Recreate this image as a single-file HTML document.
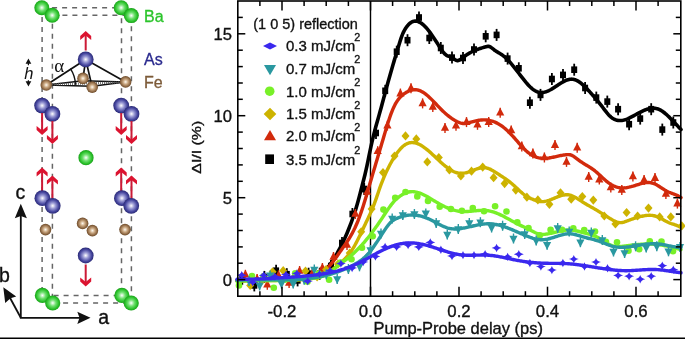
<!DOCTYPE html>
<html><head><meta charset="utf-8"><style>html,body{margin:0;padding:0;background:#fff;overflow:hidden}svg{display:block;will-change:transform}</style></head><body><svg width="685" height="339" viewBox="0 0 685 339"><defs>
<radialGradient id="gBa" cx="0.5" cy="0.5" r="0.52"><stop offset="0" stop-color="#ffffff"/><stop offset="0.4" stop-color="#70e070"/><stop offset="0.75" stop-color="#2cc22c"/><stop offset="1" stop-color="#169a16"/></radialGradient>
<radialGradient id="gAs" cx="0.5" cy="0.5" r="0.52"><stop offset="0" stop-color="#ffffff"/><stop offset="0.35" stop-color="#9a9ad4"/><stop offset="0.72" stop-color="#4848a0"/><stop offset="1" stop-color="#24246e"/></radialGradient>
<radialGradient id="gFe" cx="0.5" cy="0.5" r="0.52"><stop offset="0" stop-color="#fffaf0"/><stop offset="0.4" stop-color="#caa882"/><stop offset="0.8" stop-color="#8a6440"/><stop offset="1" stop-color="#634424"/></radialGradient>
</defs><rect width="685" height="339" fill="#fff"/><rect x="42.1" y="7.7" width="79.4" height="287.7" stroke="#666" stroke-width="1.5" stroke-dasharray="5,5" fill="none"/><rect x="52.4" y="15.3" width="79" height="287.7" stroke="#666" stroke-width="1.5" stroke-dasharray="5,5" fill="none"/><circle cx="41.8" cy="7.7" r="7.5" fill="url(#gBa)"/><circle cx="52.2" cy="15.3" r="7.5" fill="url(#gBa)"/><circle cx="121.2" cy="7.7" r="7.5" fill="url(#gBa)"/><circle cx="131.3" cy="15.6" r="7.5" fill="url(#gBa)"/><line x1="85.7" y1="50.5" x2="85.7" y2="34.0" stroke="#cc1a36" stroke-width="2"/><path d="M85.7,31.0 L91.2,36.0 L91.2,40.0 L85.7,35.6 L80.2,40.0 L80.2,36.0 Z" fill="#dc1430"/><g stroke="#111" stroke-width="1.7" fill="none" stroke-linecap="round"><line x1="85.7" y1="59.5" x2="46.3" y2="85"/><line x1="85.7" y1="59.5" x2="125.6" y2="81.9"/><line x1="85.7" y1="59.5" x2="83" y2="78.4"/><line x1="85.7" y1="59.5" x2="92.2" y2="87.1"/><path d="M46.3,85 L83,80.8 L125.6,81.9 L92.2,86.3 Z" stroke-width="1.5"/><path d="M70.7,69.2 A29,29 0 0 1 75.4,84.2" stroke-width="1.4"/></g><path d="M52,84.3 L120,82.5" stroke="#555" stroke-width="2.4" stroke-dasharray="0.8,1.2"/><circle cx="46.3" cy="85.0" r="5.8" fill="url(#gFe)"/><circle cx="83.0" cy="78.4" r="5.8" fill="url(#gFe)"/><circle cx="125.6" cy="81.9" r="5.8" fill="url(#gFe)"/><circle cx="85.7" cy="59.4" r="7.9" fill="url(#gAs)"/><circle cx="92.2" cy="87.1" r="5.8" fill="url(#gFe)"/><text x="54.2" y="71.6" font-family="Liberation Serif, serif" font-size="19" fill="#111">α</text><text x="24.2" y="78.8" font-family="Liberation Sans, sans-serif" font-style="italic" font-size="16.5" fill="#111">h</text><path d="M28.4,58.6 L31.3,63.8 L25.6,63.8 Z M28.4,86.5 L31.3,81.3 L25.6,81.3 Z" fill="#111"/><path d="M28.4,63 L28.4,65.3 M28.4,80.3 L28.4,82" stroke="#111" stroke-width="1.2"/><circle cx="42.1" cy="105.6" r="7.9" fill="url(#gAs)"/><circle cx="52.4" cy="113.9" r="7.9" fill="url(#gAs)"/><circle cx="121.2" cy="105.6" r="7.9" fill="url(#gAs)"/><circle cx="131.5" cy="113.9" r="7.9" fill="url(#gAs)"/><line x1="42.1" y1="113.0" x2="42.1" y2="132.1" stroke="#cc1a36" stroke-width="2"/><path d="M42.1,135.1 L47.6,130.1 L47.6,126.1 L42.1,130.5 L36.6,126.1 L36.6,130.1 Z" fill="#dc1430"/><line x1="52.4" y1="121.0" x2="52.4" y2="141.0" stroke="#cc1a36" stroke-width="2"/><path d="M52.4,144.0 L57.9,139.0 L57.9,135.0 L52.4,139.4 L46.9,135.0 L46.9,139.0 Z" fill="#dc1430"/><line x1="121.2" y1="113.0" x2="121.2" y2="132.1" stroke="#cc1a36" stroke-width="2"/><path d="M121.2,135.1 L126.7,130.1 L126.7,126.1 L121.2,130.5 L115.7,126.1 L115.7,130.1 Z" fill="#dc1430"/><line x1="131.5" y1="121.0" x2="131.5" y2="141.0" stroke="#cc1a36" stroke-width="2"/><path d="M131.5,144.0 L137.0,139.0 L137.0,135.0 L131.5,139.4 L126.0,135.0 L126.0,139.0 Z" fill="#dc1430"/><circle cx="86.0" cy="157.7" r="7.6" fill="url(#gBa)"/><line x1="42.1" y1="191.0" x2="42.1" y2="170.4" stroke="#cc1a36" stroke-width="2"/><path d="M42.1,167.4 L47.6,172.4 L47.6,176.4 L42.1,172.0 L36.6,176.4 L36.6,172.4 Z" fill="#dc1430"/><line x1="52.4" y1="199.0" x2="52.4" y2="178.4" stroke="#cc1a36" stroke-width="2"/><path d="M52.4,175.4 L57.9,180.4 L57.9,184.4 L52.4,180.0 L46.9,184.4 L46.9,180.4 Z" fill="#dc1430"/><line x1="121.2" y1="191.0" x2="121.2" y2="170.4" stroke="#cc1a36" stroke-width="2"/><path d="M121.2,167.4 L126.7,172.4 L126.7,176.4 L121.2,172.0 L115.7,176.4 L115.7,172.4 Z" fill="#dc1430"/><line x1="131.5" y1="199.0" x2="131.5" y2="178.4" stroke="#cc1a36" stroke-width="2"/><path d="M131.5,175.4 L137.0,180.4 L137.0,184.4 L131.5,180.0 L126.0,184.4 L126.0,180.4 Z" fill="#dc1430"/><circle cx="42.4" cy="198.2" r="7.9" fill="url(#gAs)"/><circle cx="52.7" cy="205.8" r="7.9" fill="url(#gAs)"/><circle cx="121.9" cy="198.2" r="7.9" fill="url(#gAs)"/><circle cx="131.2" cy="205.8" r="7.9" fill="url(#gAs)"/><circle cx="45.5" cy="229.6" r="5.8" fill="url(#gFe)"/><circle cx="82.6" cy="223.4" r="5.8" fill="url(#gFe)"/><circle cx="92.4" cy="230.6" r="5.8" fill="url(#gFe)"/><circle cx="125.0" cy="229.6" r="5.8" fill="url(#gFe)"/><circle cx="85.7" cy="255.5" r="7.9" fill="url(#gAs)"/><line x1="85.7" y1="264.5" x2="85.7" y2="283.5" stroke="#cc1a36" stroke-width="2"/><path d="M85.7,286.5 L91.2,281.5 L91.2,277.5 L85.7,281.9 L80.2,277.5 L80.2,281.5 Z" fill="#dc1430"/><circle cx="42.4" cy="295.4" r="7.6" fill="url(#gBa)"/><circle cx="52.7" cy="303.0" r="7.6" fill="url(#gBa)"/><circle cx="121.9" cy="295.4" r="7.6" fill="url(#gBa)"/><circle cx="131.2" cy="303.0" r="7.6" fill="url(#gBa)"/><g stroke="#111" stroke-width="1.8" fill="none"><path d="M20.8,215 L20.8,317.8 L80,317.8"/><path d="M20.8,317.8 L9,296"/></g><path d="M20.8,203.8 L26.9,218.2 L20.8,216 L14.8,218.2 Z" fill="#111"/><path d="M90.5,317.8 L77.3,311.7 L79.5,317.8 L77.3,323.9 Z" fill="#111"/><path d="M3.3,287.3 L16.2,296.4 L10.5,298.2 L5.2,303 Z" fill="#111"/><text x="15.6" y="198.8" font-family="Liberation Sans, sans-serif" stroke="#111" stroke-width="0.35" font-size="19.5" fill="#111">c</text><text x="-1" y="281.6" font-family="Liberation Sans, sans-serif" stroke="#111" stroke-width="0.35" font-size="19.5" fill="#111">b</text><text x="98.2" y="323.8" font-family="Liberation Sans, sans-serif" stroke="#111" stroke-width="0.35" font-size="19.5" fill="#111">a</text><text x="144" y="21.8" font-family="Liberation Sans, sans-serif" stroke="#2bc42b" stroke-width="0.3" font-size="16" fill="#2bc42b">Ba</text><text x="144" y="65" font-family="Liberation Sans, sans-serif" stroke="#2a2a8e" stroke-width="0.3" font-size="16" fill="#2a2a8e">As</text><text x="144" y="88" font-family="Liberation Sans, sans-serif" stroke="#7c5a38" stroke-width="0.3" font-size="16" fill="#7c5a38">Fe</text><line x1="370.5" y1="1.0" x2="370.5" y2="296.2" stroke="#000" stroke-width="1.4"/><g><line x1="242.3" y1="272.8" x2="242.3" y2="284.8" stroke="#000" stroke-width="1.8"/><rect x="239.3" y="275.5" width="6" height="6.6" fill="#000"/><line x1="254.3" y1="279.4" x2="254.3" y2="291.4" stroke="#000" stroke-width="1.8"/><rect x="251.3" y="282.1" width="6" height="6.6" fill="#000"/><line x1="264.4" y1="270.9" x2="264.4" y2="282.9" stroke="#000" stroke-width="1.8"/><rect x="261.4" y="273.6" width="6" height="6.6" fill="#000"/><line x1="276.1" y1="264.7" x2="276.1" y2="276.7" stroke="#000" stroke-width="1.8"/><rect x="273.1" y="267.4" width="6" height="6.6" fill="#000"/><line x1="286.8" y1="268.2" x2="286.8" y2="280.2" stroke="#000" stroke-width="1.8"/><rect x="283.8" y="270.9" width="6" height="6.6" fill="#000"/><line x1="297.6" y1="274.4" x2="297.6" y2="286.4" stroke="#000" stroke-width="1.8"/><rect x="294.6" y="277.1" width="6" height="6.6" fill="#000"/><line x1="308.6" y1="267.7" x2="308.6" y2="279.7" stroke="#000" stroke-width="1.8"/><rect x="305.6" y="270.4" width="6" height="6.6" fill="#000"/><line x1="319.7" y1="267.7" x2="319.7" y2="279.7" stroke="#000" stroke-width="1.8"/><rect x="316.7" y="270.4" width="6" height="6.6" fill="#000"/><line x1="331.0" y1="260.0" x2="331.0" y2="272.0" stroke="#000" stroke-width="1.8"/><rect x="328.0" y="262.7" width="6" height="6.6" fill="#000"/><line x1="342.0" y1="237.0" x2="342.0" y2="249.0" stroke="#000" stroke-width="1.8"/><rect x="339.0" y="239.7" width="6" height="6.6" fill="#000"/><line x1="352.4" y1="208.0" x2="352.4" y2="220.0" stroke="#000" stroke-width="1.8"/><rect x="349.4" y="210.7" width="6" height="6.6" fill="#000"/><line x1="364.2" y1="183.0" x2="364.2" y2="195.0" stroke="#000" stroke-width="1.8"/><rect x="361.2" y="185.7" width="6" height="6.6" fill="#000"/><line x1="376.0" y1="127.0" x2="376.0" y2="139.0" stroke="#000" stroke-width="1.8"/><rect x="373.0" y="129.7" width="6" height="6.6" fill="#000"/><line x1="385.2" y1="84.8" x2="385.2" y2="96.8" stroke="#000" stroke-width="1.8"/><rect x="382.2" y="87.5" width="6" height="6.6" fill="#000"/><line x1="396.7" y1="45.7" x2="396.7" y2="57.7" stroke="#000" stroke-width="1.8"/><rect x="393.7" y="48.4" width="6" height="6.6" fill="#000"/><line x1="407.5" y1="34.2" x2="407.5" y2="46.2" stroke="#000" stroke-width="1.8"/><rect x="404.5" y="36.9" width="6" height="6.6" fill="#000"/><line x1="419.0" y1="11.5" x2="419.0" y2="23.5" stroke="#000" stroke-width="1.8"/><rect x="416.0" y="14.2" width="6" height="6.6" fill="#000"/><line x1="429.3" y1="32.0" x2="429.3" y2="44.0" stroke="#000" stroke-width="1.8"/><rect x="426.3" y="34.7" width="6" height="6.6" fill="#000"/><line x1="440.8" y1="42.0" x2="440.8" y2="54.0" stroke="#000" stroke-width="1.8"/><rect x="437.8" y="44.7" width="6" height="6.6" fill="#000"/><line x1="452.0" y1="51.6" x2="452.0" y2="63.6" stroke="#000" stroke-width="1.8"/><rect x="449.0" y="54.3" width="6" height="6.6" fill="#000"/><line x1="463.0" y1="52.0" x2="463.0" y2="64.0" stroke="#000" stroke-width="1.8"/><rect x="460.0" y="54.7" width="6" height="6.6" fill="#000"/><line x1="474.0" y1="43.5" x2="474.0" y2="55.5" stroke="#000" stroke-width="1.8"/><rect x="471.0" y="46.2" width="6" height="6.6" fill="#000"/><line x1="485.7" y1="30.3" x2="485.7" y2="42.3" stroke="#000" stroke-width="1.8"/><rect x="482.7" y="33.0" width="6" height="6.6" fill="#000"/><line x1="496.6" y1="28.9" x2="496.6" y2="40.9" stroke="#000" stroke-width="1.8"/><rect x="493.6" y="31.6" width="6" height="6.6" fill="#000"/><line x1="507.6" y1="52.6" x2="507.6" y2="64.6" stroke="#000" stroke-width="1.8"/><rect x="504.6" y="55.3" width="6" height="6.6" fill="#000"/><line x1="518.8" y1="62.3" x2="518.8" y2="74.3" stroke="#000" stroke-width="1.8"/><rect x="515.8" y="65.0" width="6" height="6.6" fill="#000"/><line x1="529.9" y1="96.7" x2="529.9" y2="108.7" stroke="#000" stroke-width="1.8"/><rect x="526.9" y="99.4" width="6" height="6.6" fill="#000"/><line x1="540.5" y1="88.9" x2="540.5" y2="100.9" stroke="#000" stroke-width="1.8"/><rect x="537.5" y="91.6" width="6" height="6.6" fill="#000"/><line x1="551.9" y1="73.0" x2="551.9" y2="85.0" stroke="#000" stroke-width="1.8"/><rect x="548.9" y="75.7" width="6" height="6.6" fill="#000"/><line x1="563.0" y1="68.9" x2="563.0" y2="80.9" stroke="#000" stroke-width="1.8"/><rect x="560.0" y="71.6" width="6" height="6.6" fill="#000"/><line x1="574.2" y1="63.7" x2="574.2" y2="75.7" stroke="#000" stroke-width="1.8"/><rect x="571.2" y="66.4" width="6" height="6.6" fill="#000"/><line x1="585.1" y1="82.0" x2="585.1" y2="94.0" stroke="#000" stroke-width="1.8"/><rect x="582.1" y="84.7" width="6" height="6.6" fill="#000"/><line x1="596.3" y1="91.6" x2="596.3" y2="103.6" stroke="#000" stroke-width="1.8"/><rect x="593.3" y="94.3" width="6" height="6.6" fill="#000"/><line x1="607.3" y1="95.6" x2="607.3" y2="107.6" stroke="#000" stroke-width="1.8"/><rect x="604.3" y="98.3" width="6" height="6.6" fill="#000"/><line x1="618.1" y1="103.2" x2="618.1" y2="115.2" stroke="#000" stroke-width="1.8"/><rect x="615.1" y="105.9" width="6" height="6.6" fill="#000"/><line x1="629.1" y1="118.2" x2="629.1" y2="130.2" stroke="#000" stroke-width="1.8"/><rect x="626.1" y="120.9" width="6" height="6.6" fill="#000"/><line x1="640.2" y1="112.6" x2="640.2" y2="124.6" stroke="#000" stroke-width="1.8"/><rect x="637.2" y="115.3" width="6" height="6.6" fill="#000"/><line x1="651.2" y1="103.2" x2="651.2" y2="115.2" stroke="#000" stroke-width="1.8"/><rect x="648.2" y="105.9" width="6" height="6.6" fill="#000"/><line x1="662.3" y1="123.6" x2="662.3" y2="135.6" stroke="#000" stroke-width="1.8"/><rect x="659.3" y="126.3" width="6" height="6.6" fill="#000"/><line x1="673.3" y1="116.5" x2="673.3" y2="128.5" stroke="#000" stroke-width="1.8"/><rect x="670.3" y="119.2" width="6" height="6.6" fill="#000"/></g><path d="M237.0,280.56 L238.0,280.53 L239.0,280.50 L240.0,280.47 L241.0,280.45 L242.0,280.42 L243.0,280.40 L244.0,280.38 L245.0,280.36 L246.0,280.34 L247.0,280.32 L248.0,280.30 L249.0,280.28 L250.0,280.27 L251.0,280.25 L252.0,280.24 L253.0,280.22 L254.0,280.21 L255.0,280.19 L256.0,280.18 L257.0,280.17 L258.0,280.16 L259.0,280.14 L260.0,280.13 L261.0,280.12 L262.0,280.10 L263.0,280.09 L264.0,280.08 L265.0,280.06 L266.0,280.05 L267.0,280.03 L268.0,280.02 L269.0,280.00 L270.0,279.98 L271.0,279.97 L272.0,279.95 L273.0,279.93 L274.0,279.91 L275.0,279.89 L276.0,279.86 L277.0,279.84 L278.0,279.81 L279.0,279.78 L280.0,279.76 L281.0,279.72 L282.0,279.69 L283.0,279.66 L284.0,279.62 L285.0,279.58 L286.0,279.54 L287.0,279.50 L288.0,279.46 L289.0,279.41 L290.0,279.36 L291.0,279.31 L292.0,279.26 L293.0,279.20 L294.0,279.15 L295.0,279.08 L296.0,279.02 L297.0,278.95 L298.0,278.88 L299.0,278.81 L300.0,278.74 L301.0,278.66 L302.0,278.57 L303.0,278.48 L304.0,278.38 L305.0,278.26 L306.0,278.14 L307.0,277.99 L308.0,277.83 L309.0,277.65 L310.0,277.45 L311.0,277.22 L312.0,276.96 L313.0,276.67 L314.0,276.36 L315.0,276.01 L316.0,275.62 L317.0,275.20 L318.0,274.73 L319.0,274.23 L320.0,273.67 L321.0,273.06 L322.0,272.40 L323.0,271.68 L324.0,270.88 L325.0,270.02 L326.0,269.09 L327.0,268.07 L328.0,266.98 L329.0,265.80 L330.0,264.54 L331.0,263.19 L332.0,261.76 L333.0,260.25 L334.0,258.66 L335.0,257.01 L336.0,255.30 L337.0,253.54 L338.0,251.74 L339.0,249.89 L340.0,248.01 L341.0,246.09 L342.0,244.12 L343.0,242.09 L344.0,239.99 L345.0,237.81 L346.0,235.54 L347.0,233.20 L348.0,230.77 L349.0,228.26 L350.0,225.68 L351.0,223.03 L352.0,220.31 L353.0,217.51 L354.0,214.61 L355.0,211.58 L356.0,208.40 L357.0,205.02 L358.0,201.45 L359.0,197.72 L360.0,193.89 L361.0,190.02 L362.0,186.15 L363.0,182.33 L364.0,178.48 L365.0,174.45 L366.0,170.12 L367.0,165.54 L368.0,160.79 L369.0,155.98 L370.0,151.17 L371.0,146.46 L372.0,141.93 L373.0,137.65 L374.0,133.61 L375.0,129.76 L376.0,126.05 L377.0,122.45 L378.0,118.90 L379.0,115.37 L380.0,111.80 L381.0,108.17 L382.0,104.47 L383.0,100.74 L384.0,96.99 L385.0,93.26 L386.0,89.56 L387.0,85.91 L388.0,82.30 L389.0,78.73 L390.0,75.19 L391.0,71.70 L392.0,68.23 L393.0,64.79 L394.0,61.38 L395.0,58.00 L396.0,54.64 L397.0,51.30 L398.0,47.97 L399.0,44.67 L400.0,41.44 L401.0,38.37 L402.0,35.57 L403.0,33.14 L404.0,31.09 L405.0,29.34 L406.0,27.79 L407.0,26.40 L408.0,25.17 L409.0,24.11 L410.0,23.21 L411.0,22.47 L412.0,21.89 L413.0,21.47 L414.0,21.20 L415.0,21.08 L416.0,21.09 L417.0,21.24 L418.0,21.51 L419.0,21.91 L420.0,22.41 L421.0,23.03 L422.0,23.75 L423.0,24.56 L424.0,25.46 L425.0,26.45 L426.0,27.52 L427.0,28.65 L428.0,29.86 L429.0,31.12 L430.0,32.44 L431.0,33.82 L432.0,35.23 L433.0,36.69 L434.0,38.18 L435.0,39.70 L436.0,41.25 L437.0,42.81 L438.0,44.39 L439.0,45.97 L440.0,47.54 L441.0,49.07 L442.0,50.53 L443.0,51.88 L444.0,53.09 L445.0,54.14 L446.0,54.98 L447.0,55.61 L448.0,56.06 L449.0,56.41 L450.0,56.74 L451.0,57.12 L452.0,57.63 L453.0,58.29 L454.0,59.03 L455.0,59.74 L456.0,60.31 L457.0,60.63 L458.0,60.61 L459.0,60.25 L460.0,59.68 L461.0,59.02 L462.0,58.30 L463.0,57.55 L464.0,56.79 L465.0,56.04 L466.0,55.32 L467.0,54.63 L468.0,53.99 L469.0,53.38 L470.0,52.80 L471.0,52.26 L472.0,51.74 L473.0,51.26 L474.0,50.80 L475.0,50.37 L476.0,49.96 L477.0,49.57 L478.0,49.20 L479.0,48.85 L480.0,48.52 L481.0,48.20 L482.0,47.90 L483.0,47.61 L484.0,47.32 L485.0,47.04 L486.0,46.76 L487.0,46.50 L488.0,46.34 L489.0,46.41 L490.0,46.77 L491.0,47.35 L492.0,48.08 L493.0,48.88 L494.0,49.69 L495.0,50.43 L496.0,51.11 L497.0,51.74 L498.0,52.35 L499.0,52.95 L500.0,53.55 L501.0,54.18 L502.0,54.86 L503.0,55.58 L504.0,56.37 L505.0,57.22 L506.0,58.12 L507.0,59.07 L508.0,60.08 L509.0,61.14 L510.0,62.24 L511.0,63.39 L512.0,64.57 L513.0,65.78 L514.0,67.03 L515.0,68.29 L516.0,69.58 L517.0,70.87 L518.0,72.18 L519.0,73.49 L520.0,74.81 L521.0,76.12 L522.0,77.42 L523.0,78.70 L524.0,79.97 L525.0,81.20 L526.0,82.40 L527.0,83.57 L528.0,84.68 L529.0,85.75 L530.0,86.76 L531.0,87.70 L532.0,88.57 L533.0,89.37 L534.0,90.09 L535.0,90.72 L536.0,91.26 L537.0,91.69 L538.0,92.03 L539.0,92.28 L540.0,92.44 L541.0,92.51 L542.0,92.50 L543.0,92.41 L544.0,92.26 L545.0,92.03 L546.0,91.74 L547.0,91.39 L548.0,90.98 L549.0,90.52 L550.0,90.01 L551.0,89.47 L552.0,88.89 L553.0,88.27 L554.0,87.64 L555.0,86.99 L556.0,86.32 L557.0,85.65 L558.0,84.99 L559.0,84.33 L560.0,83.68 L561.0,83.05 L562.0,82.45 L563.0,81.88 L564.0,81.35 L565.0,80.86 L566.0,80.42 L567.0,80.04 L568.0,79.72 L569.0,79.46 L570.0,79.28 L571.0,79.19 L572.0,79.17 L573.0,79.25 L574.0,79.43 L575.0,79.71 L576.0,80.09 L577.0,80.56 L578.0,81.11 L579.0,81.74 L580.0,82.44 L581.0,83.20 L582.0,84.03 L583.0,84.91 L584.0,85.84 L585.0,86.82 L586.0,87.82 L587.0,88.86 L588.0,89.92 L589.0,91.00 L590.0,92.10 L591.0,93.21 L592.0,94.33 L593.0,95.47 L594.0,96.62 L595.0,97.79 L596.0,98.98 L597.0,100.18 L598.0,101.40 L599.0,102.63 L600.0,103.88 L601.0,105.16 L602.0,106.44 L603.0,107.75 L604.0,109.07 L605.0,110.38 L606.0,111.66 L607.0,112.90 L608.0,114.08 L609.0,115.19 L610.0,116.20 L611.0,117.10 L612.0,117.88 L613.0,118.54 L614.0,119.09 L615.0,119.53 L616.0,119.89 L617.0,120.16 L618.0,120.36 L619.0,120.49 L620.0,120.54 L621.0,120.53 L622.0,120.44 L623.0,120.30 L624.0,120.09 L625.0,119.82 L626.0,119.49 L627.0,119.11 L628.0,118.68 L629.0,118.22 L630.0,117.72 L631.0,117.21 L632.0,116.68 L633.0,116.14 L634.0,115.59 L635.0,115.04 L636.0,114.48 L637.0,113.93 L638.0,113.38 L639.0,112.84 L640.0,112.31 L641.0,111.80 L642.0,111.31 L643.0,110.84 L644.0,110.39 L645.0,109.98 L646.0,109.59 L647.0,109.24 L648.0,108.94 L649.0,108.67 L650.0,108.46 L651.0,108.30 L652.0,108.19 L653.0,108.15 L654.0,108.17 L655.0,108.26 L656.0,108.42 L657.0,108.66 L658.0,108.98 L659.0,109.38 L660.0,109.87 L661.0,110.42 L662.0,111.05 L663.0,111.73 L664.0,112.48 L665.0,113.28 L666.0,114.13 L667.0,115.02 L668.0,115.96 L669.0,116.92 L670.0,117.92 L671.0,118.94 L672.0,119.98 L673.0,121.04 L674.0,122.10 L675.0,123.17 L676.0,124.24 L677.0,125.31 L678.0,126.37 L679.0,127.41 L680.0,128.43 L681.0,129.42" fill="none" stroke="#000000" stroke-width="3.6" stroke-linecap="round" stroke-linejoin="round"/><g><line x1="245.4" y1="269.8" x2="245.4" y2="279.8" stroke="#d22a0c" stroke-width="1.4"/><path d="M245.4,269.8 L249.5,277.6 L241.3,277.6 Z" fill="#d22a0c"/><line x1="257.1" y1="274.0" x2="257.1" y2="284.0" stroke="#d22a0c" stroke-width="1.4"/><path d="M257.1,274.0 L261.2,281.8 L253.0,281.8 Z" fill="#d22a0c"/><line x1="267.3" y1="279.8" x2="267.3" y2="289.8" stroke="#d22a0c" stroke-width="1.4"/><path d="M267.3,279.8 L271.4,287.6 L263.2,287.6 Z" fill="#d22a0c"/><line x1="278.5" y1="270.4" x2="278.5" y2="280.4" stroke="#d22a0c" stroke-width="1.4"/><path d="M278.5,270.4 L282.6,278.2 L274.4,278.2 Z" fill="#d22a0c"/><line x1="289.1" y1="278.0" x2="289.1" y2="288.0" stroke="#d22a0c" stroke-width="1.4"/><path d="M289.1,278.0 L293.2,285.8 L285.0,285.8 Z" fill="#d22a0c"/><line x1="299.6" y1="266.0" x2="299.6" y2="276.0" stroke="#d22a0c" stroke-width="1.4"/><path d="M299.6,266.0 L303.7,273.8 L295.5,273.8 Z" fill="#d22a0c"/><line x1="312.3" y1="268.5" x2="312.3" y2="278.5" stroke="#d22a0c" stroke-width="1.4"/><path d="M312.3,268.5 L316.4,276.3 L308.2,276.3 Z" fill="#d22a0c"/><line x1="322.4" y1="263.0" x2="322.4" y2="273.0" stroke="#d22a0c" stroke-width="1.4"/><path d="M322.4,263.0 L326.5,270.8 L318.3,270.8 Z" fill="#d22a0c"/><line x1="333.5" y1="252.0" x2="333.5" y2="262.0" stroke="#d22a0c" stroke-width="1.4"/><path d="M333.5,252.0 L337.6,259.8 L329.4,259.8 Z" fill="#d22a0c"/><line x1="347.0" y1="240.0" x2="347.0" y2="250.0" stroke="#d22a0c" stroke-width="1.4"/><path d="M347.0,240.0 L351.1,247.8 L342.9,247.8 Z" fill="#d22a0c"/><line x1="355.4" y1="209.0" x2="355.4" y2="219.0" stroke="#d22a0c" stroke-width="1.4"/><path d="M355.4,209.0 L359.5,216.8 L351.3,216.8 Z" fill="#d22a0c"/><line x1="367.2" y1="187.0" x2="367.2" y2="197.0" stroke="#d22a0c" stroke-width="1.4"/><path d="M367.2,187.0 L371.3,194.8 L363.1,194.8 Z" fill="#d22a0c"/><line x1="377.7" y1="146.3" x2="377.7" y2="156.3" stroke="#d22a0c" stroke-width="1.4"/><path d="M377.7,146.3 L381.8,154.1 L373.6,154.1 Z" fill="#d22a0c"/><line x1="387.4" y1="120.6" x2="387.4" y2="130.6" stroke="#d22a0c" stroke-width="1.4"/><path d="M387.4,120.6 L391.5,128.4 L383.3,128.4 Z" fill="#d22a0c"/><line x1="400.4" y1="88.6" x2="400.4" y2="98.6" stroke="#d22a0c" stroke-width="1.4"/><path d="M400.4,88.6 L404.5,96.4 L396.3,96.4 Z" fill="#d22a0c"/><line x1="411.0" y1="83.3" x2="411.0" y2="93.3" stroke="#d22a0c" stroke-width="1.4"/><path d="M411.0,83.3 L415.1,91.1 L406.9,91.1 Z" fill="#d22a0c"/><line x1="422.6" y1="98.4" x2="422.6" y2="108.4" stroke="#d22a0c" stroke-width="1.4"/><path d="M422.6,98.4 L426.7,106.2 L418.5,106.2 Z" fill="#d22a0c"/><line x1="432.8" y1="101.9" x2="432.8" y2="111.9" stroke="#d22a0c" stroke-width="1.4"/><path d="M432.8,101.9 L436.9,109.7 L428.7,109.7 Z" fill="#d22a0c"/><line x1="445.0" y1="123.0" x2="445.0" y2="133.0" stroke="#d22a0c" stroke-width="1.4"/><path d="M445.0,123.0 L449.1,130.8 L440.9,130.8 Z" fill="#d22a0c"/><line x1="456.0" y1="120.7" x2="456.0" y2="130.7" stroke="#d22a0c" stroke-width="1.4"/><path d="M456.0,120.7 L460.1,128.5 L451.9,128.5 Z" fill="#d22a0c"/><line x1="466.5" y1="117.1" x2="466.5" y2="127.1" stroke="#d22a0c" stroke-width="1.4"/><path d="M466.5,117.1 L470.6,124.9 L462.4,124.9 Z" fill="#d22a0c"/><line x1="477.5" y1="119.8" x2="477.5" y2="129.8" stroke="#d22a0c" stroke-width="1.4"/><path d="M477.5,119.8 L481.6,127.6 L473.4,127.6 Z" fill="#d22a0c"/><line x1="488.7" y1="117.1" x2="488.7" y2="127.1" stroke="#d22a0c" stroke-width="1.4"/><path d="M488.7,117.1 L492.8,124.9 L484.6,124.9 Z" fill="#d22a0c"/><line x1="500.2" y1="107.7" x2="500.2" y2="117.7" stroke="#d22a0c" stroke-width="1.4"/><path d="M500.2,107.7 L504.3,115.5 L496.1,115.5 Z" fill="#d22a0c"/><line x1="511.2" y1="125.4" x2="511.2" y2="135.4" stroke="#d22a0c" stroke-width="1.4"/><path d="M511.2,125.4 L515.3,133.2 L507.1,133.2 Z" fill="#d22a0c"/><line x1="521.8" y1="141.4" x2="521.8" y2="151.4" stroke="#d22a0c" stroke-width="1.4"/><path d="M521.8,141.4 L525.9,149.2 L517.7,149.2 Z" fill="#d22a0c"/><line x1="532.9" y1="148.5" x2="532.9" y2="158.5" stroke="#d22a0c" stroke-width="1.4"/><path d="M532.9,148.5 L537.0,156.3 L528.8,156.3 Z" fill="#d22a0c"/><line x1="544.4" y1="152.5" x2="544.4" y2="162.5" stroke="#d22a0c" stroke-width="1.4"/><path d="M544.4,152.5 L548.5,160.3 L540.3,160.3 Z" fill="#d22a0c"/><line x1="555.0" y1="140.1" x2="555.0" y2="150.1" stroke="#d22a0c" stroke-width="1.4"/><path d="M555.0,140.1 L559.1,147.9 L550.9,147.9 Z" fill="#d22a0c"/><line x1="566.5" y1="156.9" x2="566.5" y2="166.9" stroke="#d22a0c" stroke-width="1.4"/><path d="M566.5,156.9 L570.6,164.7 L562.4,164.7 Z" fill="#d22a0c"/><line x1="577.2" y1="142.7" x2="577.2" y2="152.7" stroke="#d22a0c" stroke-width="1.4"/><path d="M577.2,142.7 L581.3,150.5 L573.1,150.5 Z" fill="#d22a0c"/><line x1="588.7" y1="171.9" x2="588.7" y2="181.9" stroke="#d22a0c" stroke-width="1.4"/><path d="M588.7,171.9 L592.8,179.7 L584.6,179.7 Z" fill="#d22a0c"/><line x1="599.3" y1="174.6" x2="599.3" y2="184.6" stroke="#d22a0c" stroke-width="1.4"/><path d="M599.3,174.6 L603.4,182.4 L595.2,182.4 Z" fill="#d22a0c"/><line x1="610.8" y1="182.5" x2="610.8" y2="192.5" stroke="#d22a0c" stroke-width="1.4"/><path d="M610.8,182.5 L614.9,190.3 L606.7,190.3 Z" fill="#d22a0c"/><line x1="621.8" y1="185.0" x2="621.8" y2="195.0" stroke="#d22a0c" stroke-width="1.4"/><path d="M621.8,185.0 L625.9,192.8 L617.7,192.8 Z" fill="#d22a0c"/><line x1="632.9" y1="171.4" x2="632.9" y2="181.4" stroke="#d22a0c" stroke-width="1.4"/><path d="M632.9,171.4 L637.0,179.2 L628.8,179.2 Z" fill="#d22a0c"/><line x1="644.1" y1="174.9" x2="644.1" y2="184.9" stroke="#d22a0c" stroke-width="1.4"/><path d="M644.1,174.9 L648.2,182.7 L640.0,182.7 Z" fill="#d22a0c"/><line x1="655.0" y1="173.1" x2="655.0" y2="183.1" stroke="#d22a0c" stroke-width="1.4"/><path d="M655.0,173.1 L659.1,180.9 L650.9,180.9 Z" fill="#d22a0c"/><line x1="665.9" y1="189.0" x2="665.9" y2="199.0" stroke="#d22a0c" stroke-width="1.4"/><path d="M665.9,189.0 L670.0,196.8 L661.8,196.8 Z" fill="#d22a0c"/><line x1="677.4" y1="198.6" x2="677.4" y2="208.6" stroke="#d22a0c" stroke-width="1.4"/><path d="M677.4,198.6 L681.5,206.4 L673.3,206.4 Z" fill="#d22a0c"/></g><path d="M237.0,280.68 L238.0,280.62 L239.0,280.57 L240.0,280.52 L241.0,280.47 L242.0,280.42 L243.0,280.38 L244.0,280.34 L245.0,280.31 L246.0,280.28 L247.0,280.25 L248.0,280.22 L249.0,280.20 L250.0,280.17 L251.0,280.15 L252.0,280.14 L253.0,280.12 L254.0,280.11 L255.0,280.10 L256.0,280.09 L257.0,280.08 L258.0,280.07 L259.0,280.07 L260.0,280.06 L261.0,280.06 L262.0,280.05 L263.0,280.05 L264.0,280.05 L265.0,280.05 L266.0,280.05 L267.0,280.04 L268.0,280.04 L269.0,280.04 L270.0,280.04 L271.0,280.04 L272.0,280.03 L273.0,280.03 L274.0,280.03 L275.0,280.02 L276.0,280.02 L277.0,280.01 L278.0,280.00 L279.0,279.99 L280.0,279.98 L281.0,279.96 L282.0,279.95 L283.0,279.93 L284.0,279.91 L285.0,279.89 L286.0,279.86 L287.0,279.83 L288.0,279.80 L289.0,279.77 L290.0,279.73 L291.0,279.70 L292.0,279.65 L293.0,279.61 L294.0,279.56 L295.0,279.50 L296.0,279.45 L297.0,279.39 L298.0,279.32 L299.0,279.25 L300.0,279.18 L301.0,279.10 L302.0,279.01 L303.0,278.92 L304.0,278.82 L305.0,278.70 L306.0,278.56 L307.0,278.41 L308.0,278.24 L309.0,278.05 L310.0,277.84 L311.0,277.60 L312.0,277.33 L313.0,277.03 L314.0,276.70 L315.0,276.33 L316.0,275.93 L317.0,275.49 L318.0,275.01 L319.0,274.49 L320.0,273.92 L321.0,273.30 L322.0,272.64 L323.0,271.92 L324.0,271.15 L325.0,270.32 L326.0,269.44 L327.0,268.49 L328.0,267.49 L329.0,266.42 L330.0,265.29 L331.0,264.11 L332.0,262.88 L333.0,261.60 L334.0,260.29 L335.0,258.94 L336.0,257.57 L337.0,256.17 L338.0,254.75 L339.0,253.32 L340.0,251.87 L341.0,250.43 L342.0,248.99 L343.0,247.55 L344.0,246.12 L345.0,244.69 L346.0,243.24 L347.0,241.77 L348.0,240.26 L349.0,238.71 L350.0,237.09 L351.0,235.41 L352.0,233.65 L353.0,231.79 L354.0,229.84 L355.0,227.77 L356.0,225.57 L357.0,223.25 L358.0,220.79 L359.0,218.21 L360.0,215.51 L361.0,212.69 L362.0,209.76 L363.0,206.71 L364.0,203.56 L365.0,200.30 L366.0,196.97 L367.0,193.59 L368.0,190.17 L369.0,186.74 L370.0,183.32 L371.0,179.91 L372.0,176.52 L373.0,173.14 L374.0,169.76 L375.0,166.40 L376.0,163.04 L377.0,159.68 L378.0,156.32 L379.0,152.96 L380.0,149.59 L381.0,146.21 L382.0,142.82 L383.0,139.42 L384.0,136.01 L385.0,132.62 L386.0,129.27 L387.0,125.98 L388.0,122.78 L389.0,119.69 L390.0,116.73 L391.0,113.92 L392.0,111.30 L393.0,108.88 L394.0,106.68 L395.0,104.70 L396.0,102.91 L397.0,101.30 L398.0,99.86 L399.0,98.57 L400.0,97.42 L401.0,96.39 L402.0,95.47 L403.0,94.64 L404.0,93.89 L405.0,93.20 L406.0,92.57 L407.0,91.99 L408.0,91.47 L409.0,91.01 L410.0,90.62 L411.0,90.29 L412.0,90.02 L413.0,89.83 L414.0,89.71 L415.0,89.67 L416.0,89.71 L417.0,89.83 L418.0,90.03 L419.0,90.32 L420.0,90.69 L421.0,91.14 L422.0,91.67 L423.0,92.26 L424.0,92.91 L425.0,93.63 L426.0,94.39 L427.0,95.21 L428.0,96.07 L429.0,96.97 L430.0,97.91 L431.0,98.88 L432.0,99.87 L433.0,100.88 L434.0,101.91 L435.0,102.95 L436.0,104.00 L437.0,105.05 L438.0,106.10 L439.0,107.15 L440.0,108.18 L441.0,109.20 L442.0,110.20 L443.0,111.18 L444.0,112.13 L445.0,113.05 L446.0,113.93 L447.0,114.79 L448.0,115.61 L449.0,116.40 L450.0,117.15 L451.0,117.87 L452.0,118.56 L453.0,119.21 L454.0,119.83 L455.0,120.42 L456.0,120.97 L457.0,121.48 L458.0,121.96 L459.0,122.39 L460.0,122.76 L461.0,123.07 L462.0,123.30 L463.0,123.46 L464.0,123.53 L465.0,123.50 L466.0,123.40 L467.0,123.23 L468.0,123.00 L469.0,122.74 L470.0,122.44 L471.0,122.14 L472.0,121.84 L473.0,121.55 L474.0,121.28 L475.0,121.03 L476.0,120.80 L477.0,120.59 L478.0,120.41 L479.0,120.25 L480.0,120.12 L481.0,120.02 L482.0,119.94 L483.0,119.90 L484.0,119.89 L485.0,119.91 L486.0,119.97 L487.0,120.06 L488.0,120.19 L489.0,120.36 L490.0,120.56 L491.0,120.81 L492.0,121.09 L493.0,121.41 L494.0,121.77 L495.0,122.18 L496.0,122.62 L497.0,123.11 L498.0,123.64 L499.0,124.21 L500.0,124.83 L501.0,125.49 L502.0,126.19 L503.0,126.94 L504.0,127.72 L505.0,128.55 L506.0,129.41 L507.0,130.31 L508.0,131.24 L509.0,132.21 L510.0,133.21 L511.0,134.24 L512.0,135.30 L513.0,136.38 L514.0,137.50 L515.0,138.63 L516.0,139.79 L517.0,140.95 L518.0,142.11 L519.0,143.27 L520.0,144.41 L521.0,145.54 L522.0,146.65 L523.0,147.73 L524.0,148.77 L525.0,149.76 L526.0,150.71 L527.0,151.60 L528.0,152.43 L529.0,153.20 L530.0,153.91 L531.0,154.57 L532.0,155.17 L533.0,155.71 L534.0,156.20 L535.0,156.64 L536.0,157.02 L537.0,157.35 L538.0,157.63 L539.0,157.87 L540.0,158.05 L541.0,158.19 L542.0,158.28 L543.0,158.33 L544.0,158.35 L545.0,158.33 L546.0,158.27 L547.0,158.19 L548.0,158.08 L549.0,157.95 L550.0,157.79 L551.0,157.62 L552.0,157.43 L553.0,157.23 L554.0,157.02 L555.0,156.80 L556.0,156.58 L557.0,156.35 L558.0,156.13 L559.0,155.91 L560.0,155.70 L561.0,155.50 L562.0,155.31 L563.0,155.14 L564.0,154.98 L565.0,154.85 L566.0,154.74 L567.0,154.66 L568.0,154.62 L569.0,154.64 L570.0,154.76 L571.0,155.00 L572.0,155.38 L573.0,155.92 L574.0,156.57 L575.0,157.30 L576.0,158.05 L577.0,158.81 L578.0,159.58 L579.0,160.33 L580.0,161.07 L581.0,161.78 L582.0,162.45 L583.0,163.10 L584.0,163.73 L585.0,164.35 L586.0,164.96 L587.0,165.56 L588.0,166.16 L589.0,166.78 L590.0,167.41 L591.0,168.05 L592.0,168.72 L593.0,169.42 L594.0,170.16 L595.0,170.94 L596.0,171.76 L597.0,172.62 L598.0,173.51 L599.0,174.42 L600.0,175.35 L601.0,176.28 L602.0,177.22 L603.0,178.15 L604.0,179.06 L605.0,179.96 L606.0,180.83 L607.0,181.66 L608.0,182.45 L609.0,183.20 L610.0,183.88 L611.0,184.51 L612.0,185.09 L613.0,185.60 L614.0,186.06 L615.0,186.47 L616.0,186.82 L617.0,187.13 L618.0,187.38 L619.0,187.58 L620.0,187.73 L621.0,187.84 L622.0,187.90 L623.0,187.92 L624.0,187.89 L625.0,187.82 L626.0,187.71 L627.0,187.56 L628.0,187.38 L629.0,187.18 L630.0,186.94 L631.0,186.69 L632.0,186.41 L633.0,186.13 L634.0,185.82 L635.0,185.51 L636.0,185.20 L637.0,184.89 L638.0,184.57 L639.0,184.26 L640.0,183.96 L641.0,183.68 L642.0,183.42 L643.0,183.18 L644.0,182.97 L645.0,182.79 L646.0,182.65 L647.0,182.56 L648.0,182.52 L649.0,182.54 L650.0,182.62 L651.0,182.76 L652.0,182.97 L653.0,183.26 L654.0,183.63 L655.0,184.06 L656.0,184.56 L657.0,185.10 L658.0,185.69 L659.0,186.31 L660.0,186.95 L661.0,187.60 L662.0,188.26 L663.0,188.92 L664.0,189.55 L665.0,190.17 L666.0,190.75 L667.0,191.28 L668.0,191.77 L669.0,192.22 L670.0,192.63 L671.0,193.02 L672.0,193.40 L673.0,193.77 L674.0,194.14 L675.0,194.53 L676.0,194.94 L677.0,195.38 L678.0,195.87 L679.0,196.40 L680.0,196.99 L681.0,197.65" fill="none" stroke="#d22a0c" stroke-width="3.4" stroke-linecap="round" stroke-linejoin="round"/><g><path d="M250.2,280.8 L254.2,285.4 L250.2,290.0 L246.2,285.4 Z" fill="#cdb300"/><path d="M261.9,276.1 L265.9,280.7 L261.9,285.3 L257.9,280.7 Z" fill="#cdb300"/><path d="M272.6,267.2 L276.6,271.8 L272.6,276.4 L268.6,271.8 Z" fill="#cdb300"/><path d="M283.2,266.1 L287.2,270.7 L283.2,275.3 L279.2,270.7 Z" fill="#cdb300"/><path d="M295.1,271.3 L299.1,275.9 L295.1,280.5 L291.1,275.9 Z" fill="#cdb300"/><path d="M305.5,266.4 L309.5,271.0 L305.5,275.6 L301.5,271.0 Z" fill="#cdb300"/><path d="M317.1,272.2 L321.1,276.8 L317.1,281.4 L313.1,276.8 Z" fill="#cdb300"/><path d="M326.1,264.9 L330.1,269.5 L326.1,274.1 L322.1,269.5 Z" fill="#cdb300"/><path d="M338.0,259.4 L342.0,264.0 L338.0,268.6 L334.0,264.0 Z" fill="#cdb300"/><path d="M349.7,248.4 L353.7,253.0 L349.7,257.6 L345.7,253.0 Z" fill="#cdb300"/><path d="M361.2,227.2 L365.2,231.8 L361.2,236.4 L357.2,231.8 Z" fill="#cdb300"/><path d="M371.6,204.4 L375.6,209.0 L371.6,213.6 L367.6,209.0 Z" fill="#cdb300"/><path d="M383.0,167.9 L387.0,172.5 L383.0,177.1 L379.0,172.5 Z" fill="#cdb300"/><path d="M394.5,151.4 L398.5,156.0 L394.5,160.6 L390.5,156.0 Z" fill="#cdb300"/><path d="M405.5,131.3 L409.5,135.9 L405.5,140.5 L401.5,135.9 Z" fill="#cdb300"/><path d="M416.3,134.3 L420.3,138.9 L416.3,143.5 L412.3,138.9 Z" fill="#cdb300"/><path d="M427.3,157.3 L431.3,161.9 L427.3,166.5 L423.3,161.9 Z" fill="#cdb300"/><path d="M438.8,152.9 L442.8,157.5 L438.8,162.1 L434.8,157.5 Z" fill="#cdb300"/><path d="M449.4,165.3 L453.4,169.9 L449.4,174.5 L445.4,169.9 Z" fill="#cdb300"/><path d="M460.9,171.4 L464.9,176.0 L460.9,180.6 L456.9,176.0 Z" fill="#cdb300"/><path d="M471.5,166.6 L475.5,171.2 L471.5,175.8 L467.5,171.2 Z" fill="#cdb300"/><path d="M482.7,162.5 L486.7,167.1 L482.7,171.7 L478.7,167.1 Z" fill="#cdb300"/><path d="M493.6,173.1 L497.6,177.7 L493.6,182.3 L489.6,177.7 Z" fill="#cdb300"/><path d="M504.6,179.0 L508.6,183.6 L504.6,188.2 L500.6,183.6 Z" fill="#cdb300"/><path d="M515.8,185.5 L519.8,190.1 L515.8,194.7 L511.8,190.1 Z" fill="#cdb300"/><path d="M526.9,192.6 L530.9,197.2 L526.9,201.8 L522.9,197.2 Z" fill="#cdb300"/><path d="M537.9,195.3 L541.9,199.9 L537.9,204.5 L533.9,199.9 Z" fill="#cdb300"/><path d="M549.4,199.7 L553.4,204.3 L549.4,208.9 L545.4,204.3 Z" fill="#cdb300"/><path d="M560.5,188.2 L564.5,192.8 L560.5,197.4 L556.5,192.8 Z" fill="#cdb300"/><path d="M571.2,194.6 L575.2,199.2 L571.2,203.8 L567.2,199.2 Z" fill="#cdb300"/><path d="M582.3,191.9 L586.3,196.5 L582.3,201.1 L578.3,196.5 Z" fill="#cdb300"/><path d="M593.3,195.5 L597.3,200.1 L593.3,204.7 L589.3,200.1 Z" fill="#cdb300"/><path d="M604.3,211.4 L608.3,216.0 L604.3,220.6 L600.3,216.0 Z" fill="#cdb300"/><path d="M615.4,219.4 L619.4,224.0 L615.4,228.6 L611.4,224.0 Z" fill="#cdb300"/><path d="M626.6,207.9 L630.6,212.5 L626.6,217.1 L622.6,212.5 Z" fill="#cdb300"/><path d="M637.6,211.4 L641.6,216.0 L637.6,220.6 L633.6,216.0 Z" fill="#cdb300"/><path d="M648.5,203.5 L652.5,208.1 L648.5,212.7 L644.5,208.1 Z" fill="#cdb300"/><path d="M659.7,212.3 L663.7,216.9 L659.7,221.5 L655.7,216.9 Z" fill="#cdb300"/><path d="M670.8,212.3 L674.8,216.9 L670.8,221.5 L666.8,216.9 Z" fill="#cdb300"/><path d="M681.8,221.2 L685.8,225.8 L681.8,230.4 L677.8,225.8 Z" fill="#cdb300"/></g><path d="M237.0,281.04 L238.0,281.01 L239.0,280.99 L240.0,280.96 L241.0,280.94 L242.0,280.91 L243.0,280.89 L244.0,280.87 L245.0,280.85 L246.0,280.83 L247.0,280.81 L248.0,280.80 L249.0,280.78 L250.0,280.76 L251.0,280.75 L252.0,280.73 L253.0,280.72 L254.0,280.70 L255.0,280.69 L256.0,280.68 L257.0,280.67 L258.0,280.65 L259.0,280.64 L260.0,280.63 L261.0,280.62 L262.0,280.61 L263.0,280.59 L264.0,280.58 L265.0,280.57 L266.0,280.56 L267.0,280.55 L268.0,280.54 L269.0,280.52 L270.0,280.51 L271.0,280.50 L272.0,280.48 L273.0,280.47 L274.0,280.46 L275.0,280.44 L276.0,280.43 L277.0,280.41 L278.0,280.39 L279.0,280.38 L280.0,280.36 L281.0,280.34 L282.0,280.32 L283.0,280.30 L284.0,280.28 L285.0,280.25 L286.0,280.23 L287.0,280.20 L288.0,280.18 L289.0,280.15 L290.0,280.12 L291.0,280.09 L292.0,280.06 L293.0,280.03 L294.0,279.99 L295.0,279.96 L296.0,279.92 L297.0,279.88 L298.0,279.84 L299.0,279.79 L300.0,279.75 L301.0,279.69 L302.0,279.63 L303.0,279.57 L304.0,279.49 L305.0,279.41 L306.0,279.32 L307.0,279.21 L308.0,279.10 L309.0,278.97 L310.0,278.82 L311.0,278.66 L312.0,278.48 L313.0,278.29 L314.0,278.07 L315.0,277.84 L316.0,277.59 L317.0,277.31 L318.0,277.01 L319.0,276.68 L320.0,276.33 L321.0,275.96 L322.0,275.55 L323.0,275.12 L324.0,274.66 L325.0,274.17 L326.0,273.65 L327.0,273.09 L328.0,272.50 L329.0,271.88 L330.0,271.24 L331.0,270.56 L332.0,269.86 L333.0,269.13 L334.0,268.38 L335.0,267.60 L336.0,266.80 L337.0,265.99 L338.0,265.15 L339.0,264.29 L340.0,263.42 L341.0,262.53 L342.0,261.62 L343.0,260.69 L344.0,259.72 L345.0,258.72 L346.0,257.67 L347.0,256.56 L348.0,255.40 L349.0,254.17 L350.0,252.87 L351.0,251.48 L352.0,250.01 L353.0,248.44 L354.0,246.77 L355.0,245.02 L356.0,243.19 L357.0,241.29 L358.0,239.33 L359.0,237.32 L360.0,235.27 L361.0,233.19 L362.0,231.08 L363.0,228.95 L364.0,226.82 L365.0,224.69 L366.0,222.57 L367.0,220.47 L368.0,218.37 L369.0,216.26 L370.0,214.11 L371.0,211.89 L372.0,209.59 L373.0,207.18 L374.0,204.64 L375.0,201.94 L376.0,199.10 L377.0,196.16 L378.0,193.19 L379.0,190.24 L380.0,187.38 L381.0,184.65 L382.0,182.05 L383.0,179.56 L384.0,177.18 L385.0,174.87 L386.0,172.65 L387.0,170.49 L388.0,168.43 L389.0,166.44 L390.0,164.54 L391.0,162.70 L392.0,160.94 L393.0,159.23 L394.0,157.60 L395.0,156.02 L396.0,154.52 L397.0,153.10 L398.0,151.75 L399.0,150.48 L400.0,149.30 L401.0,148.21 L402.0,147.20 L403.0,146.30 L404.0,145.49 L405.0,144.78 L406.0,144.17 L407.0,143.67 L408.0,143.26 L409.0,142.95 L410.0,142.73 L411.0,142.60 L412.0,142.55 L413.0,142.58 L414.0,142.69 L415.0,142.87 L416.0,143.13 L417.0,143.45 L418.0,143.83 L419.0,144.27 L420.0,144.78 L421.0,145.33 L422.0,145.93 L423.0,146.58 L424.0,147.28 L425.0,148.01 L426.0,148.78 L427.0,149.58 L428.0,150.41 L429.0,151.27 L430.0,152.15 L431.0,153.05 L432.0,153.96 L433.0,154.89 L434.0,155.83 L435.0,156.77 L436.0,157.72 L437.0,158.66 L438.0,159.61 L439.0,160.55 L440.0,161.47 L441.0,162.39 L442.0,163.29 L443.0,164.17 L444.0,165.03 L445.0,165.87 L446.0,166.67 L447.0,167.45 L448.0,168.19 L449.0,168.89 L450.0,169.56 L451.0,170.17 L452.0,170.75 L453.0,171.27 L454.0,171.73 L455.0,172.14 L456.0,172.50 L457.0,172.78 L458.0,173.01 L459.0,173.16 L460.0,173.26 L461.0,173.30 L462.0,173.28 L463.0,173.21 L464.0,173.10 L465.0,172.94 L466.0,172.73 L467.0,172.49 L468.0,172.21 L469.0,171.90 L470.0,171.56 L471.0,171.19 L472.0,170.81 L473.0,170.41 L474.0,170.01 L475.0,169.62 L476.0,169.24 L477.0,168.88 L478.0,168.54 L479.0,168.24 L480.0,167.99 L481.0,167.78 L482.0,167.64 L483.0,167.56 L484.0,167.55 L485.0,167.63 L486.0,167.79 L487.0,168.03 L488.0,168.34 L489.0,168.72 L490.0,169.15 L491.0,169.64 L492.0,170.17 L493.0,170.74 L494.0,171.34 L495.0,171.96 L496.0,172.60 L497.0,173.25 L498.0,173.90 L499.0,174.55 L500.0,175.20 L501.0,175.85 L502.0,176.50 L503.0,177.15 L504.0,177.82 L505.0,178.50 L506.0,179.19 L507.0,179.90 L508.0,180.63 L509.0,181.38 L510.0,182.16 L511.0,182.97 L512.0,183.81 L513.0,184.68 L514.0,185.57 L515.0,186.49 L516.0,187.42 L517.0,188.36 L518.0,189.29 L519.0,190.22 L520.0,191.14 L521.0,192.03 L522.0,192.90 L523.0,193.73 L524.0,194.52 L525.0,195.27 L526.0,195.96 L527.0,196.59 L528.0,197.16 L529.0,197.69 L530.0,198.17 L531.0,198.61 L532.0,199.02 L533.0,199.42 L534.0,199.80 L535.0,200.17 L536.0,200.53 L537.0,200.87 L538.0,201.16 L539.0,201.39 L540.0,201.56 L541.0,201.65 L542.0,201.67 L543.0,201.63 L544.0,201.53 L545.0,201.37 L546.0,201.16 L547.0,200.91 L548.0,200.61 L549.0,200.29 L550.0,199.93 L551.0,199.56 L552.0,199.16 L553.0,198.75 L554.0,198.33 L555.0,197.92 L556.0,197.50 L557.0,197.09 L558.0,196.70 L559.0,196.33 L560.0,195.98 L561.0,195.66 L562.0,195.38 L563.0,195.15 L564.0,194.96 L565.0,194.82 L566.0,194.75 L567.0,194.74 L568.0,194.80 L569.0,194.93 L570.0,195.15 L571.0,195.44 L572.0,195.80 L573.0,196.22 L574.0,196.70 L575.0,197.22 L576.0,197.78 L577.0,198.37 L578.0,198.99 L579.0,199.63 L580.0,200.28 L581.0,200.94 L582.0,201.59 L583.0,202.24 L584.0,202.87 L585.0,203.48 L586.0,204.08 L587.0,204.67 L588.0,205.25 L589.0,205.82 L590.0,206.39 L591.0,206.95 L592.0,207.51 L593.0,208.07 L594.0,208.63 L595.0,209.20 L596.0,209.78 L597.0,210.37 L598.0,210.97 L599.0,211.58 L600.0,212.20 L601.0,212.83 L602.0,213.47 L603.0,214.10 L604.0,214.74 L605.0,215.38 L606.0,216.02 L607.0,216.65 L608.0,217.27 L609.0,217.88 L610.0,218.49 L611.0,219.07 L612.0,219.64 L613.0,220.20 L614.0,220.72 L615.0,221.21 L616.0,221.64 L617.0,222.01 L618.0,222.31 L619.0,222.52 L620.0,222.64 L621.0,222.65 L622.0,222.54 L623.0,222.34 L624.0,222.06 L625.0,221.72 L626.0,221.35 L627.0,220.97 L628.0,220.59 L629.0,220.22 L630.0,219.85 L631.0,219.49 L632.0,219.14 L633.0,218.80 L634.0,218.47 L635.0,218.15 L636.0,217.83 L637.0,217.53 L638.0,217.25 L639.0,216.97 L640.0,216.71 L641.0,216.47 L642.0,216.24 L643.0,216.02 L644.0,215.83 L645.0,215.66 L646.0,215.52 L647.0,215.41 L648.0,215.33 L649.0,215.29 L650.0,215.29 L651.0,215.33 L652.0,215.42 L653.0,215.55 L654.0,215.74 L655.0,215.99 L656.0,216.29 L657.0,216.65 L658.0,217.06 L659.0,217.52 L660.0,218.01 L661.0,218.52 L662.0,219.06 L663.0,219.61 L664.0,220.16 L665.0,220.71 L666.0,221.25 L667.0,221.76 L668.0,222.26 L669.0,222.71 L670.0,223.13 L671.0,223.51 L672.0,223.85 L673.0,224.17 L674.0,224.49 L675.0,224.81 L676.0,225.16 L677.0,225.54 L678.0,225.96 L679.0,226.44 L680.0,226.99 L681.0,227.62" fill="none" stroke="#cdb300" stroke-width="3.4" stroke-linecap="round" stroke-linejoin="round"/><g><circle cx="239.0" cy="285.4" r="3.3" fill="#78f028"/><circle cx="252.0" cy="276.0" r="3.3" fill="#78f028"/><circle cx="263.3" cy="276.9" r="3.3" fill="#78f028"/><circle cx="273.8" cy="287.8" r="3.3" fill="#78f028"/><circle cx="285.4" cy="279.6" r="3.3" fill="#78f028"/><circle cx="295.2" cy="273.2" r="3.3" fill="#78f028"/><circle cx="307.5" cy="281.7" r="3.3" fill="#78f028"/><circle cx="318.6" cy="273.6" r="3.3" fill="#78f028"/><circle cx="329.1" cy="279.8" r="3.3" fill="#78f028"/><circle cx="340.7" cy="262.6" r="3.3" fill="#78f028"/><circle cx="351.5" cy="259.2" r="3.3" fill="#78f028"/><circle cx="362.0" cy="247.7" r="3.3" fill="#78f028"/><circle cx="372.7" cy="236.2" r="3.3" fill="#78f028"/><circle cx="383.4" cy="209.6" r="3.3" fill="#78f028"/><circle cx="395.2" cy="197.8" r="3.3" fill="#78f028"/><circle cx="405.5" cy="192.0" r="3.3" fill="#78f028"/><circle cx="417.3" cy="196.4" r="3.3" fill="#78f028"/><circle cx="428.0" cy="200.9" r="3.3" fill="#78f028"/><circle cx="439.7" cy="206.8" r="3.3" fill="#78f028"/><circle cx="450.9" cy="209.0" r="3.3" fill="#78f028"/><circle cx="461.9" cy="210.7" r="3.3" fill="#78f028"/><circle cx="472.8" cy="208.0" r="3.3" fill="#78f028"/><circle cx="484.0" cy="211.2" r="3.3" fill="#78f028"/><circle cx="495.1" cy="206.2" r="3.3" fill="#78f028"/><circle cx="506.5" cy="211.5" r="3.3" fill="#78f028"/><circle cx="517.3" cy="222.2" r="3.3" fill="#78f028"/><circle cx="528.5" cy="228.0" r="3.3" fill="#78f028"/><circle cx="539.7" cy="235.4" r="3.3" fill="#78f028"/><circle cx="550.6" cy="229.8" r="3.3" fill="#78f028"/><circle cx="562.1" cy="229.8" r="3.3" fill="#78f028"/><circle cx="573.3" cy="228.2" r="3.3" fill="#78f028"/><circle cx="584.2" cy="230.0" r="3.3" fill="#78f028"/><circle cx="595.0" cy="231.6" r="3.3" fill="#78f028"/><circle cx="605.9" cy="241.8" r="3.3" fill="#78f028"/><circle cx="617.0" cy="242.3" r="3.3" fill="#78f028"/><circle cx="628.5" cy="250.7" r="3.3" fill="#78f028"/><circle cx="639.2" cy="249.3" r="3.3" fill="#78f028"/><circle cx="649.8" cy="241.4" r="3.3" fill="#78f028"/><circle cx="661.5" cy="241.5" r="3.3" fill="#78f028"/><circle cx="673.0" cy="251.3" r="3.3" fill="#78f028"/></g><path d="M237.0,281.18 L238.0,281.12 L239.0,281.06 L240.0,281.01 L241.0,280.96 L242.0,280.91 L243.0,280.87 L244.0,280.83 L245.0,280.80 L246.0,280.77 L247.0,280.74 L248.0,280.71 L249.0,280.69 L250.0,280.67 L251.0,280.65 L252.0,280.64 L253.0,280.62 L254.0,280.61 L255.0,280.60 L256.0,280.59 L257.0,280.59 L258.0,280.58 L259.0,280.58 L260.0,280.57 L261.0,280.57 L262.0,280.57 L263.0,280.57 L264.0,280.57 L265.0,280.57 L266.0,280.57 L267.0,280.57 L268.0,280.57 L269.0,280.57 L270.0,280.57 L271.0,280.56 L272.0,280.56 L273.0,280.56 L274.0,280.55 L275.0,280.55 L276.0,280.54 L277.0,280.53 L278.0,280.52 L279.0,280.50 L280.0,280.49 L281.0,280.47 L282.0,280.45 L283.0,280.43 L284.0,280.41 L285.0,280.38 L286.0,280.35 L287.0,280.31 L288.0,280.28 L289.0,280.24 L290.0,280.19 L291.0,280.14 L292.0,280.09 L293.0,280.04 L294.0,279.98 L295.0,279.91 L296.0,279.84 L297.0,279.77 L298.0,279.69 L299.0,279.61 L300.0,279.52 L301.0,279.43 L302.0,279.34 L303.0,279.24 L304.0,279.14 L305.0,279.04 L306.0,278.94 L307.0,278.84 L308.0,278.74 L309.0,278.64 L310.0,278.54 L311.0,278.44 L312.0,278.34 L313.0,278.24 L314.0,278.13 L315.0,278.01 L316.0,277.87 L317.0,277.72 L318.0,277.54 L319.0,277.33 L320.0,277.09 L321.0,276.82 L322.0,276.50 L323.0,276.13 L324.0,275.72 L325.0,275.25 L326.0,274.72 L327.0,274.14 L328.0,273.50 L329.0,272.83 L330.0,272.12 L331.0,271.38 L332.0,270.61 L333.0,269.83 L334.0,269.02 L335.0,268.21 L336.0,267.40 L337.0,266.58 L338.0,265.78 L339.0,264.98 L340.0,264.20 L341.0,263.43 L342.0,262.67 L343.0,261.90 L344.0,261.14 L345.0,260.38 L346.0,259.61 L347.0,258.84 L348.0,258.05 L349.0,257.25 L350.0,256.44 L351.0,255.60 L352.0,254.74 L353.0,253.86 L354.0,252.96 L355.0,252.02 L356.0,251.07 L357.0,250.08 L358.0,249.07 L359.0,248.04 L360.0,246.99 L361.0,245.91 L362.0,244.80 L363.0,243.68 L364.0,242.53 L365.0,241.36 L366.0,240.16 L367.0,238.95 L368.0,237.71 L369.0,236.46 L370.0,235.18 L371.0,233.88 L372.0,232.56 L373.0,231.22 L374.0,229.86 L375.0,228.49 L376.0,227.09 L377.0,225.68 L378.0,224.24 L379.0,222.79 L380.0,221.33 L381.0,219.84 L382.0,218.34 L383.0,216.82 L384.0,215.30 L385.0,213.78 L386.0,212.27 L387.0,210.78 L388.0,209.31 L389.0,207.87 L390.0,206.47 L391.0,205.12 L392.0,203.83 L393.0,202.60 L394.0,201.44 L395.0,200.36 L396.0,199.37 L397.0,198.45 L398.0,197.60 L399.0,196.82 L400.0,196.11 L401.0,195.45 L402.0,194.84 L403.0,194.28 L404.0,193.76 L405.0,193.29 L406.0,192.87 L407.0,192.51 L408.0,192.21 L409.0,191.97 L410.0,191.80 L411.0,191.70 L412.0,191.66 L413.0,191.67 L414.0,191.75 L415.0,191.87 L416.0,192.05 L417.0,192.27 L418.0,192.54 L419.0,192.85 L420.0,193.20 L421.0,193.59 L422.0,194.01 L423.0,194.46 L424.0,194.94 L425.0,195.45 L426.0,195.98 L427.0,196.54 L428.0,197.10 L429.0,197.68 L430.0,198.28 L431.0,198.88 L432.0,199.48 L433.0,200.09 L434.0,200.69 L435.0,201.29 L436.0,201.88 L437.0,202.47 L438.0,203.04 L439.0,203.61 L440.0,204.16 L441.0,204.70 L442.0,205.23 L443.0,205.74 L444.0,206.24 L445.0,206.73 L446.0,207.19 L447.0,207.64 L448.0,208.07 L449.0,208.48 L450.0,208.86 L451.0,209.23 L452.0,209.57 L453.0,209.89 L454.0,210.19 L455.0,210.46 L456.0,210.70 L457.0,210.91 L458.0,211.10 L459.0,211.26 L460.0,211.38 L461.0,211.48 L462.0,211.55 L463.0,211.58 L464.0,211.60 L465.0,211.59 L466.0,211.56 L467.0,211.52 L468.0,211.46 L469.0,211.38 L470.0,211.30 L471.0,211.21 L472.0,211.11 L473.0,211.01 L474.0,210.91 L475.0,210.80 L476.0,210.71 L477.0,210.62 L478.0,210.53 L479.0,210.46 L480.0,210.40 L481.0,210.36 L482.0,210.34 L483.0,210.33 L484.0,210.35 L485.0,210.39 L486.0,210.46 L487.0,210.56 L488.0,210.70 L489.0,210.86 L490.0,211.06 L491.0,211.30 L492.0,211.56 L493.0,211.86 L494.0,212.18 L495.0,212.53 L496.0,212.91 L497.0,213.30 L498.0,213.72 L499.0,214.16 L500.0,214.62 L501.0,215.09 L502.0,215.58 L503.0,216.08 L504.0,216.60 L505.0,217.12 L506.0,217.66 L507.0,218.20 L508.0,218.74 L509.0,219.29 L510.0,219.84 L511.0,220.40 L512.0,220.95 L513.0,221.50 L514.0,222.04 L515.0,222.58 L516.0,223.11 L517.0,223.63 L518.0,224.15 L519.0,224.65 L520.0,225.14 L521.0,225.62 L522.0,226.10 L523.0,226.57 L524.0,227.04 L525.0,227.51 L526.0,227.98 L527.0,228.46 L528.0,228.94 L529.0,229.42 L530.0,229.92 L531.0,230.43 L532.0,230.95 L533.0,231.47 L534.0,231.99 L535.0,232.49 L536.0,232.96 L537.0,233.39 L538.0,233.75 L539.0,234.05 L540.0,234.27 L541.0,234.40 L542.0,234.45 L543.0,234.44 L544.0,234.38 L545.0,234.28 L546.0,234.15 L547.0,234.00 L548.0,233.83 L549.0,233.64 L550.0,233.43 L551.0,233.22 L552.0,232.99 L553.0,232.75 L554.0,232.51 L555.0,232.27 L556.0,232.03 L557.0,231.78 L558.0,231.55 L559.0,231.32 L560.0,231.10 L561.0,230.89 L562.0,230.70 L563.0,230.53 L564.0,230.38 L565.0,230.24 L566.0,230.14 L567.0,230.06 L568.0,230.01 L569.0,229.99 L570.0,230.01 L571.0,230.06 L572.0,230.15 L573.0,230.27 L574.0,230.42 L575.0,230.60 L576.0,230.79 L577.0,231.01 L578.0,231.25 L579.0,231.49 L580.0,231.75 L581.0,232.02 L582.0,232.29 L583.0,232.56 L584.0,232.83 L585.0,233.10 L586.0,233.37 L587.0,233.63 L588.0,233.90 L589.0,234.18 L590.0,234.46 L591.0,234.76 L592.0,235.08 L593.0,235.42 L594.0,235.79 L595.0,236.18 L596.0,236.60 L597.0,237.06 L598.0,237.56 L599.0,238.10 L600.0,238.68 L601.0,239.29 L602.0,239.92 L603.0,240.56 L604.0,241.22 L605.0,241.86 L606.0,242.50 L607.0,243.11 L608.0,243.70 L609.0,244.25 L610.0,244.75 L611.0,245.19 L612.0,245.58 L613.0,245.89 L614.0,246.14 L615.0,246.33 L616.0,246.46 L617.0,246.54 L618.0,246.58 L619.0,246.58 L620.0,246.54 L621.0,246.48 L622.0,246.39 L623.0,246.28 L624.0,246.16 L625.0,246.03 L626.0,245.89 L627.0,245.76 L628.0,245.63 L629.0,245.50 L630.0,245.37 L631.0,245.25 L632.0,245.12 L633.0,245.01 L634.0,244.89 L635.0,244.78 L636.0,244.68 L637.0,244.58 L638.0,244.49 L639.0,244.40 L640.0,244.33 L641.0,244.25 L642.0,244.19 L643.0,244.14 L644.0,244.09 L645.0,244.05 L646.0,244.02 L647.0,244.00 L648.0,244.00 L649.0,244.00 L650.0,244.02 L651.0,244.04 L652.0,244.08 L653.0,244.13 L654.0,244.20 L655.0,244.28 L656.0,244.37 L657.0,244.47 L658.0,244.59 L659.0,244.72 L660.0,244.86 L661.0,245.01 L662.0,245.17 L663.0,245.34 L664.0,245.52 L665.0,245.71 L666.0,245.91 L667.0,246.12 L668.0,246.33 L669.0,246.55 L670.0,246.78 L671.0,247.01 L672.0,247.25 L673.0,247.50 L674.0,247.75 L675.0,248.00 L676.0,248.26 L677.0,248.52 L678.0,248.78 L679.0,249.04 L680.0,249.31 L681.0,249.58" fill="none" stroke="#78f028" stroke-width="3.4" stroke-linecap="round" stroke-linejoin="round"/><g><line x1="249.0" y1="276.1" x2="249.0" y2="286.1" stroke="#2a98a0" stroke-width="1.4"/><path d="M249.0,286.1 L253.1,278.3 L244.9,278.3 Z" fill="#2a98a0"/><line x1="259.6" y1="280.4" x2="259.6" y2="290.4" stroke="#2a98a0" stroke-width="1.4"/><path d="M259.6,290.4 L263.7,282.6 L255.5,282.6 Z" fill="#2a98a0"/><line x1="270.2" y1="270.4" x2="270.2" y2="280.4" stroke="#2a98a0" stroke-width="1.4"/><path d="M270.2,280.4 L274.3,272.6 L266.1,272.6 Z" fill="#2a98a0"/><line x1="281.5" y1="278.6" x2="281.5" y2="288.6" stroke="#2a98a0" stroke-width="1.4"/><path d="M281.5,288.6 L285.6,280.8 L277.4,280.8 Z" fill="#2a98a0"/><line x1="293.2" y1="278.6" x2="293.2" y2="288.6" stroke="#2a98a0" stroke-width="1.4"/><path d="M293.2,288.6 L297.3,280.8 L289.1,280.8 Z" fill="#2a98a0"/><line x1="304.2" y1="274.7" x2="304.2" y2="284.7" stroke="#2a98a0" stroke-width="1.4"/><path d="M304.2,284.7 L308.3,276.9 L300.1,276.9 Z" fill="#2a98a0"/><line x1="314.3" y1="264.5" x2="314.3" y2="274.5" stroke="#2a98a0" stroke-width="1.4"/><path d="M314.3,274.5 L318.4,266.7 L310.2,266.7 Z" fill="#2a98a0"/><line x1="326.3" y1="269.3" x2="326.3" y2="279.3" stroke="#2a98a0" stroke-width="1.4"/><path d="M326.3,279.3 L330.4,271.5 L322.2,271.5 Z" fill="#2a98a0"/><line x1="337.2" y1="274.0" x2="337.2" y2="284.0" stroke="#2a98a0" stroke-width="1.4"/><path d="M337.2,284.0 L341.3,276.2 L333.1,276.2 Z" fill="#2a98a0"/><line x1="348.4" y1="264.0" x2="348.4" y2="274.0" stroke="#2a98a0" stroke-width="1.4"/><path d="M348.4,274.0 L352.5,266.2 L344.3,266.2 Z" fill="#2a98a0"/><line x1="359.5" y1="261.3" x2="359.5" y2="271.3" stroke="#2a98a0" stroke-width="1.4"/><path d="M359.5,271.3 L363.6,263.5 L355.4,263.5 Z" fill="#2a98a0"/><line x1="370.5" y1="245.0" x2="370.5" y2="255.0" stroke="#2a98a0" stroke-width="1.4"/><path d="M370.5,255.0 L374.6,247.2 L366.4,247.2 Z" fill="#2a98a0"/><line x1="381.0" y1="228.6" x2="381.0" y2="238.6" stroke="#2a98a0" stroke-width="1.4"/><path d="M381.0,238.6 L385.1,230.8 L376.9,230.8 Z" fill="#2a98a0"/><line x1="392.2" y1="213.5" x2="392.2" y2="223.5" stroke="#2a98a0" stroke-width="1.4"/><path d="M392.2,223.5 L396.3,215.7 L388.1,215.7 Z" fill="#2a98a0"/><line x1="402.8" y1="210.0" x2="402.8" y2="220.0" stroke="#2a98a0" stroke-width="1.4"/><path d="M402.8,220.0 L406.9,212.2 L398.7,212.2 Z" fill="#2a98a0"/><line x1="414.4" y1="209.0" x2="414.4" y2="219.0" stroke="#2a98a0" stroke-width="1.4"/><path d="M414.4,219.0 L418.5,211.2 L410.3,211.2 Z" fill="#2a98a0"/><line x1="425.8" y1="208.4" x2="425.8" y2="218.4" stroke="#2a98a0" stroke-width="1.4"/><path d="M425.8,218.4 L429.9,210.6 L421.7,210.6 Z" fill="#2a98a0"/><line x1="436.2" y1="218.0" x2="436.2" y2="228.0" stroke="#2a98a0" stroke-width="1.4"/><path d="M436.2,228.0 L440.3,220.2 L432.1,220.2 Z" fill="#2a98a0"/><line x1="447.3" y1="229.6" x2="447.3" y2="239.6" stroke="#2a98a0" stroke-width="1.4"/><path d="M447.3,239.6 L451.4,231.8 L443.2,231.8 Z" fill="#2a98a0"/><line x1="458.3" y1="224.0" x2="458.3" y2="234.0" stroke="#2a98a0" stroke-width="1.4"/><path d="M458.3,234.0 L462.4,226.2 L454.2,226.2 Z" fill="#2a98a0"/><line x1="469.3" y1="218.0" x2="469.3" y2="228.0" stroke="#2a98a0" stroke-width="1.4"/><path d="M469.3,228.0 L473.4,220.2 L465.2,220.2 Z" fill="#2a98a0"/><line x1="480.4" y1="217.2" x2="480.4" y2="227.2" stroke="#2a98a0" stroke-width="1.4"/><path d="M480.4,227.2 L484.5,219.4 L476.3,219.4 Z" fill="#2a98a0"/><line x1="491.6" y1="222.5" x2="491.6" y2="232.5" stroke="#2a98a0" stroke-width="1.4"/><path d="M491.6,232.5 L495.7,224.7 L487.5,224.7 Z" fill="#2a98a0"/><line x1="502.6" y1="220.7" x2="502.6" y2="230.7" stroke="#2a98a0" stroke-width="1.4"/><path d="M502.6,230.7 L506.7,222.9 L498.5,222.9 Z" fill="#2a98a0"/><line x1="513.5" y1="233.5" x2="513.5" y2="243.5" stroke="#2a98a0" stroke-width="1.4"/><path d="M513.5,243.5 L517.6,235.7 L509.4,235.7 Z" fill="#2a98a0"/><line x1="524.7" y1="229.0" x2="524.7" y2="239.0" stroke="#2a98a0" stroke-width="1.4"/><path d="M524.7,239.0 L528.8,231.2 L520.6,231.2 Z" fill="#2a98a0"/><line x1="536.2" y1="235.5" x2="536.2" y2="245.5" stroke="#2a98a0" stroke-width="1.4"/><path d="M536.2,245.5 L540.3,237.7 L532.1,237.7 Z" fill="#2a98a0"/><line x1="547.1" y1="239.8" x2="547.1" y2="249.8" stroke="#2a98a0" stroke-width="1.4"/><path d="M547.1,249.8 L551.2,242.0 L543.0,242.0 Z" fill="#2a98a0"/><line x1="557.7" y1="223.0" x2="557.7" y2="233.0" stroke="#2a98a0" stroke-width="1.4"/><path d="M557.7,233.0 L561.8,225.2 L553.6,225.2 Z" fill="#2a98a0"/><line x1="569.2" y1="226.5" x2="569.2" y2="236.5" stroke="#2a98a0" stroke-width="1.4"/><path d="M569.2,236.5 L573.3,228.7 L565.1,228.7 Z" fill="#2a98a0"/><line x1="580.4" y1="237.2" x2="580.4" y2="247.2" stroke="#2a98a0" stroke-width="1.4"/><path d="M580.4,247.2 L584.5,239.4 L576.3,239.4 Z" fill="#2a98a0"/><line x1="591.3" y1="227.5" x2="591.3" y2="237.5" stroke="#2a98a0" stroke-width="1.4"/><path d="M591.3,237.5 L595.4,229.7 L587.2,229.7 Z" fill="#2a98a0"/><line x1="602.3" y1="235.0" x2="602.3" y2="245.0" stroke="#2a98a0" stroke-width="1.4"/><path d="M602.3,245.0 L606.4,237.2 L598.2,237.2 Z" fill="#2a98a0"/><line x1="613.5" y1="246.5" x2="613.5" y2="256.5" stroke="#2a98a0" stroke-width="1.4"/><path d="M613.5,256.5 L617.6,248.7 L609.4,248.7 Z" fill="#2a98a0"/><line x1="624.6" y1="248.0" x2="624.6" y2="258.0" stroke="#2a98a0" stroke-width="1.4"/><path d="M624.6,258.0 L628.7,250.2 L620.5,250.2 Z" fill="#2a98a0"/><line x1="635.6" y1="241.3" x2="635.6" y2="251.3" stroke="#2a98a0" stroke-width="1.4"/><path d="M635.6,251.3 L639.7,243.5 L631.5,243.5 Z" fill="#2a98a0"/><line x1="646.2" y1="242.6" x2="646.2" y2="252.6" stroke="#2a98a0" stroke-width="1.4"/><path d="M646.2,252.6 L650.3,244.8 L642.1,244.8 Z" fill="#2a98a0"/><line x1="656.8" y1="241.3" x2="656.8" y2="251.3" stroke="#2a98a0" stroke-width="1.4"/><path d="M656.8,251.3 L660.9,243.5 L652.7,243.5 Z" fill="#2a98a0"/><line x1="668.5" y1="246.3" x2="668.5" y2="256.3" stroke="#2a98a0" stroke-width="1.4"/><path d="M668.5,256.3 L672.6,248.5 L664.4,248.5 Z" fill="#2a98a0"/><line x1="680.0" y1="241.9" x2="680.0" y2="251.9" stroke="#2a98a0" stroke-width="1.4"/><path d="M680.0,251.9 L684.1,244.1 L675.9,244.1 Z" fill="#2a98a0"/></g><path d="M237.0,280.24 L238.0,280.17 L239.0,280.12 L240.0,280.06 L241.0,280.01 L242.0,279.97 L243.0,279.93 L244.0,279.89 L245.0,279.86 L246.0,279.83 L247.0,279.80 L248.0,279.78 L249.0,279.76 L250.0,279.74 L251.0,279.73 L252.0,279.72 L253.0,279.71 L254.0,279.70 L255.0,279.70 L256.0,279.70 L257.0,279.70 L258.0,279.70 L259.0,279.70 L260.0,279.71 L261.0,279.71 L262.0,279.72 L263.0,279.73 L264.0,279.73 L265.0,279.74 L266.0,279.75 L267.0,279.76 L268.0,279.77 L269.0,279.78 L270.0,279.79 L271.0,279.80 L272.0,279.81 L273.0,279.82 L274.0,279.83 L275.0,279.83 L276.0,279.84 L277.0,279.84 L278.0,279.85 L279.0,279.85 L280.0,279.85 L281.0,279.85 L282.0,279.84 L283.0,279.84 L284.0,279.83 L285.0,279.82 L286.0,279.80 L287.0,279.79 L288.0,279.77 L289.0,279.75 L290.0,279.72 L291.0,279.69 L292.0,279.66 L293.0,279.62 L294.0,279.58 L295.0,279.54 L296.0,279.49 L297.0,279.44 L298.0,279.38 L299.0,279.32 L300.0,279.25 L301.0,279.18 L302.0,279.10 L303.0,279.02 L304.0,278.93 L305.0,278.84 L306.0,278.74 L307.0,278.64 L308.0,278.53 L309.0,278.41 L310.0,278.29 L311.0,278.16 L312.0,278.02 L313.0,277.88 L314.0,277.73 L315.0,277.58 L316.0,277.42 L317.0,277.25 L318.0,277.07 L319.0,276.89 L320.0,276.69 L321.0,276.49 L322.0,276.29 L323.0,276.07 L324.0,275.85 L325.0,275.62 L326.0,275.38 L327.0,275.13 L328.0,274.87 L329.0,274.60 L330.0,274.33 L331.0,274.04 L332.0,273.75 L333.0,273.45 L334.0,273.13 L335.0,272.81 L336.0,272.48 L337.0,272.14 L338.0,271.78 L339.0,271.42 L340.0,271.05 L341.0,270.66 L342.0,270.27 L343.0,269.86 L344.0,269.45 L345.0,269.02 L346.0,268.58 L347.0,268.13 L348.0,267.67 L349.0,267.20 L350.0,266.71 L351.0,266.22 L352.0,265.71 L353.0,265.19 L354.0,264.65 L355.0,264.10 L356.0,263.54 L357.0,262.95 L358.0,262.34 L359.0,261.70 L360.0,261.02 L361.0,260.31 L362.0,259.55 L363.0,258.75 L364.0,257.89 L365.0,256.99 L366.0,256.02 L367.0,255.00 L368.0,253.91 L369.0,252.76 L370.0,251.55 L371.0,250.29 L372.0,248.98 L373.0,247.62 L374.0,246.22 L375.0,244.79 L376.0,243.32 L377.0,241.83 L378.0,240.32 L379.0,238.80 L380.0,237.26 L381.0,235.71 L382.0,234.16 L383.0,232.62 L384.0,231.09 L385.0,229.59 L386.0,228.14 L387.0,226.75 L388.0,225.43 L389.0,224.20 L390.0,223.07 L391.0,222.06 L392.0,221.19 L393.0,220.47 L394.0,219.85 L395.0,219.31 L396.0,218.80 L397.0,218.33 L398.0,217.89 L399.0,217.48 L400.0,217.11 L401.0,216.77 L402.0,216.46 L403.0,216.18 L404.0,215.93 L405.0,215.72 L406.0,215.53 L407.0,215.37 L408.0,215.24 L409.0,215.15 L410.0,215.08 L411.0,215.03 L412.0,215.02 L413.0,215.03 L414.0,215.08 L415.0,215.15 L416.0,215.25 L417.0,215.38 L418.0,215.54 L419.0,215.72 L420.0,215.94 L421.0,216.18 L422.0,216.45 L423.0,216.75 L424.0,217.08 L425.0,217.43 L426.0,217.81 L427.0,218.21 L428.0,218.62 L429.0,219.06 L430.0,219.52 L431.0,219.99 L432.0,220.48 L433.0,220.98 L434.0,221.50 L435.0,222.02 L436.0,222.56 L437.0,223.09 L438.0,223.63 L439.0,224.17 L440.0,224.69 L441.0,225.20 L442.0,225.70 L443.0,226.17 L444.0,226.62 L445.0,227.03 L446.0,227.42 L447.0,227.76 L448.0,228.06 L449.0,228.31 L450.0,228.52 L451.0,228.69 L452.0,228.81 L453.0,228.90 L454.0,228.95 L455.0,228.97 L456.0,228.95 L457.0,228.91 L458.0,228.84 L459.0,228.75 L460.0,228.63 L461.0,228.50 L462.0,228.35 L463.0,228.18 L464.0,228.00 L465.0,227.80 L466.0,227.60 L467.0,227.39 L468.0,227.17 L469.0,226.94 L470.0,226.71 L471.0,226.48 L472.0,226.24 L473.0,226.01 L474.0,225.78 L475.0,225.56 L476.0,225.34 L477.0,225.13 L478.0,224.92 L479.0,224.73 L480.0,224.55 L481.0,224.39 L482.0,224.24 L483.0,224.10 L484.0,223.99 L485.0,223.90 L486.0,223.83 L487.0,223.78 L488.0,223.76 L489.0,223.77 L490.0,223.80 L491.0,223.86 L492.0,223.95 L493.0,224.06 L494.0,224.19 L495.0,224.35 L496.0,224.53 L497.0,224.73 L498.0,224.95 L499.0,225.19 L500.0,225.45 L501.0,225.73 L502.0,226.02 L503.0,226.33 L504.0,226.65 L505.0,226.99 L506.0,227.35 L507.0,227.71 L508.0,228.09 L509.0,228.47 L510.0,228.87 L511.0,229.27 L512.0,229.69 L513.0,230.11 L514.0,230.54 L515.0,230.97 L516.0,231.40 L517.0,231.84 L518.0,232.29 L519.0,232.73 L520.0,233.17 L521.0,233.61 L522.0,234.05 L523.0,234.48 L524.0,234.91 L525.0,235.33 L526.0,235.74 L527.0,236.14 L528.0,236.53 L529.0,236.91 L530.0,237.28 L531.0,237.63 L532.0,237.96 L533.0,238.28 L534.0,238.56 L535.0,238.83 L536.0,239.06 L537.0,239.27 L538.0,239.44 L539.0,239.58 L540.0,239.68 L541.0,239.74 L542.0,239.76 L543.0,239.73 L544.0,239.66 L545.0,239.55 L546.0,239.40 L547.0,239.22 L548.0,239.01 L549.0,238.77 L550.0,238.51 L551.0,238.23 L552.0,237.93 L553.0,237.62 L554.0,237.30 L555.0,236.98 L556.0,236.65 L557.0,236.32 L558.0,236.00 L559.0,235.69 L560.0,235.39 L561.0,235.11 L562.0,234.84 L563.0,234.60 L564.0,234.38 L565.0,234.19 L566.0,234.04 L567.0,233.92 L568.0,233.84 L569.0,233.80 L570.0,233.81 L571.0,233.87 L572.0,233.98 L573.0,234.12 L574.0,234.31 L575.0,234.52 L576.0,234.77 L577.0,235.03 L578.0,235.32 L579.0,235.61 L580.0,235.92 L581.0,236.23 L582.0,236.55 L583.0,236.86 L584.0,237.16 L585.0,237.44 L586.0,237.72 L587.0,237.98 L588.0,238.23 L589.0,238.48 L590.0,238.72 L591.0,238.97 L592.0,239.21 L593.0,239.46 L594.0,239.72 L595.0,239.99 L596.0,240.27 L597.0,240.56 L598.0,240.87 L599.0,241.21 L600.0,241.56 L601.0,241.94 L602.0,242.32 L603.0,242.72 L604.0,243.12 L605.0,243.53 L606.0,243.93 L607.0,244.32 L608.0,244.71 L609.0,245.08 L610.0,245.43 L611.0,245.76 L612.0,246.06 L613.0,246.33 L614.0,246.57 L615.0,246.77 L616.0,246.94 L617.0,247.07 L618.0,247.18 L619.0,247.26 L620.0,247.31 L621.0,247.33 L622.0,247.33 L623.0,247.31 L624.0,247.27 L625.0,247.21 L626.0,247.14 L627.0,247.05 L628.0,246.94 L629.0,246.82 L630.0,246.69 L631.0,246.56 L632.0,246.41 L633.0,246.26 L634.0,246.10 L635.0,245.93 L636.0,245.77 L637.0,245.60 L638.0,245.43 L639.0,245.26 L640.0,245.09 L641.0,244.93 L642.0,244.77 L643.0,244.62 L644.0,244.47 L645.0,244.34 L646.0,244.21 L647.0,244.09 L648.0,243.99 L649.0,243.90 L650.0,243.82 L651.0,243.76 L652.0,243.72 L653.0,243.70 L654.0,243.69 L655.0,243.71 L656.0,243.75 L657.0,243.82 L658.0,243.91 L659.0,244.01 L660.0,244.14 L661.0,244.28 L662.0,244.44 L663.0,244.61 L664.0,244.79 L665.0,244.98 L666.0,245.18 L667.0,245.38 L668.0,245.58 L669.0,245.79 L670.0,245.99 L671.0,246.19 L672.0,246.38 L673.0,246.57 L674.0,246.74 L675.0,246.91 L676.0,247.06 L677.0,247.19 L678.0,247.31 L679.0,247.41 L680.0,247.48 L681.0,247.53" fill="none" stroke="#2a98a0" stroke-width="3.4" stroke-linecap="round" stroke-linejoin="round"/><g><path d="M236.7,275.2 Q240.8,274.3 241.7,271.0 Q242.6,274.3 246.7,275.2 Q242.6,276.1 241.7,279.4 Q240.8,276.1 236.7,275.2 Z" fill="#3a28ee"/><path d="M247.7,282.2 Q251.8,281.3 252.7,278.0 Q253.6,281.3 257.7,282.2 Q253.6,283.1 252.7,286.4 Q251.8,283.1 247.7,282.2 Z" fill="#3a28ee"/><path d="M258.7,275.4 Q262.8,274.5 263.7,271.2 Q264.6,274.5 268.7,275.4 Q264.6,276.3 263.7,279.6 Q262.8,276.3 258.7,275.4 Z" fill="#3a28ee"/><path d="M269.8,276.4 Q273.9,275.5 274.8,272.2 Q275.7,275.5 279.8,276.4 Q275.7,277.3 274.8,280.6 Q273.9,277.3 269.8,276.4 Z" fill="#3a28ee"/><path d="M280.9,274.7 Q285.0,273.8 285.9,270.5 Q286.8,273.8 290.9,274.7 Q286.8,275.6 285.9,278.9 Q285.0,275.6 280.9,274.7 Z" fill="#3a28ee"/><path d="M291.9,273.5 Q296.0,272.6 296.9,269.3 Q297.8,272.6 301.9,273.5 Q297.8,274.4 296.9,277.7 Q296.0,274.4 291.9,273.5 Z" fill="#3a28ee"/><path d="M302.7,281.3 Q306.8,280.4 307.7,277.1 Q308.6,280.4 312.7,281.3 Q308.6,282.2 307.7,285.5 Q306.8,282.2 302.7,281.3 Z" fill="#3a28ee"/><path d="M314.5,274.0 Q318.6,273.1 319.5,269.8 Q320.4,273.1 324.5,274.0 Q320.4,274.9 319.5,278.2 Q318.6,274.9 314.5,274.0 Z" fill="#3a28ee"/><path d="M325.1,270.6 Q329.2,269.7 330.1,266.4 Q330.9,269.7 335.1,270.6 Q330.9,271.5 330.1,274.8 Q329.2,271.5 325.1,270.6 Z" fill="#3a28ee"/><path d="M335.9,263.6 Q340.0,262.7 340.9,259.4 Q341.8,262.7 345.9,263.6 Q341.8,264.5 340.9,267.8 Q340.0,264.5 335.9,263.6 Z" fill="#3a28ee"/><path d="M347.1,268.0 Q351.2,267.1 352.1,263.8 Q353.0,267.1 357.1,268.0 Q353.0,268.9 352.1,272.2 Q351.2,268.9 347.1,268.0 Z" fill="#3a28ee"/><path d="M358.2,262.0 Q362.3,261.1 363.2,257.8 Q364.1,261.1 368.2,262.0 Q364.1,262.9 363.2,266.2 Q362.3,262.9 358.2,262.0 Z" fill="#3a28ee"/><path d="M370.4,256.6 Q374.5,255.7 375.4,252.4 Q376.3,255.7 380.4,256.6 Q376.3,257.5 375.4,260.8 Q374.5,257.5 370.4,256.6 Z" fill="#3a28ee"/><path d="M380.1,246.9 Q384.2,246.0 385.1,242.7 Q386.0,246.0 390.1,246.9 Q386.0,247.8 385.1,251.1 Q384.2,247.8 380.1,246.9 Z" fill="#3a28ee"/><path d="M391.6,246.9 Q395.7,246.0 396.6,242.7 Q397.5,246.0 401.6,246.9 Q397.5,247.8 396.6,251.1 Q395.7,247.8 391.6,246.9 Z" fill="#3a28ee"/><path d="M403.1,245.1 Q407.2,244.2 408.1,240.9 Q409.0,244.2 413.1,245.1 Q409.0,246.0 408.1,249.3 Q407.2,246.0 403.1,245.1 Z" fill="#3a28ee"/><path d="M413.8,246.9 Q417.9,246.0 418.8,242.7 Q419.7,246.0 423.8,246.9 Q419.7,247.8 418.8,251.1 Q417.9,247.8 413.8,246.9 Z" fill="#3a28ee"/><path d="M425.3,242.4 Q429.4,241.5 430.3,238.2 Q431.2,241.5 435.3,242.4 Q431.2,243.3 430.3,246.6 Q429.4,243.3 425.3,242.4 Z" fill="#3a28ee"/><path d="M435.9,249.8 Q440.0,248.9 440.9,245.6 Q441.8,248.9 445.9,249.8 Q441.8,250.7 440.9,254.0 Q440.0,250.7 435.9,249.8 Z" fill="#3a28ee"/><path d="M447.0,256.0 Q451.1,255.1 452.0,251.8 Q452.9,255.1 457.0,256.0 Q452.9,256.9 452.0,260.2 Q451.1,256.9 447.0,256.0 Z" fill="#3a28ee"/><path d="M458.0,255.1 Q462.1,254.2 463.0,250.9 Q463.9,254.2 468.0,255.1 Q463.9,256.0 463.0,259.3 Q462.1,256.0 458.0,255.1 Z" fill="#3a28ee"/><path d="M469.0,255.1 Q473.1,254.2 474.0,250.9 Q474.9,254.2 479.0,255.1 Q474.9,256.0 474.0,259.3 Q473.1,256.0 469.0,255.1 Z" fill="#3a28ee"/><path d="M480.1,254.2 Q484.2,253.3 485.1,250.0 Q486.0,253.3 490.1,254.2 Q486.0,255.1 485.1,258.4 Q484.2,255.1 480.1,254.2 Z" fill="#3a28ee"/><path d="M491.6,248.0 Q495.7,247.1 496.6,243.8 Q497.5,247.1 501.6,248.0 Q497.5,248.9 496.6,252.2 Q495.7,248.9 491.6,248.0 Z" fill="#3a28ee"/><path d="M502.6,256.9 Q506.7,256.0 507.6,252.7 Q508.5,256.0 512.6,256.9 Q508.5,257.8 507.6,261.1 Q506.7,257.8 502.6,256.9 Z" fill="#3a28ee"/><path d="M513.8,254.2 Q517.9,253.3 518.8,250.0 Q519.7,253.3 523.8,254.2 Q519.7,255.1 518.8,258.4 Q517.9,255.1 513.8,254.2 Z" fill="#3a28ee"/><path d="M524.9,263.0 Q529.0,262.1 529.9,258.8 Q530.8,262.1 534.9,263.0 Q530.8,263.9 529.9,267.2 Q529.0,263.9 524.9,263.0 Z" fill="#3a28ee"/><path d="M535.9,266.6 Q540.0,265.7 540.9,262.4 Q541.8,265.7 545.9,266.6 Q541.8,267.5 540.9,270.8 Q540.0,267.5 535.9,266.6 Z" fill="#3a28ee"/><path d="M546.9,270.1 Q551.0,269.2 551.9,265.9 Q552.8,269.2 556.9,270.1 Q552.8,271.0 551.9,274.3 Q551.0,271.0 546.9,270.1 Z" fill="#3a28ee"/><path d="M557.9,263.0 Q562.0,262.1 562.9,258.8 Q563.8,262.1 567.9,263.0 Q563.8,263.9 562.9,267.2 Q562.0,263.9 557.9,263.0 Z" fill="#3a28ee"/><path d="M568.8,259.1 Q572.9,258.2 573.8,254.9 Q574.7,258.2 578.8,259.1 Q574.7,260.0 573.8,263.3 Q572.9,260.0 568.8,259.1 Z" fill="#3a28ee"/><path d="M579.5,266.5 Q583.6,265.6 584.5,262.3 Q585.4,265.6 589.5,266.5 Q585.4,267.4 584.5,270.7 Q583.6,267.4 579.5,266.5 Z" fill="#3a28ee"/><path d="M591.0,262.1 Q595.1,261.2 596.0,257.9 Q596.9,261.2 601.0,262.1 Q596.9,263.0 596.0,266.3 Q595.1,263.0 591.0,262.1 Z" fill="#3a28ee"/><path d="M602.5,268.3 Q606.6,267.4 607.5,264.1 Q608.4,267.4 612.5,268.3 Q608.4,269.2 607.5,272.5 Q606.6,269.2 602.5,268.3 Z" fill="#3a28ee"/><path d="M613.1,275.4 Q617.2,274.5 618.1,271.2 Q619.0,274.5 623.1,275.4 Q619.0,276.3 618.1,279.6 Q617.2,276.3 613.1,275.4 Z" fill="#3a28ee"/><path d="M624.1,276.3 Q628.2,275.4 629.1,272.1 Q630.0,275.4 634.1,276.3 Q630.0,277.2 629.1,280.5 Q628.2,277.2 624.1,276.3 Z" fill="#3a28ee"/><path d="M635.2,279.3 Q639.3,278.4 640.2,275.1 Q641.1,278.4 645.2,279.3 Q641.1,280.2 640.2,283.5 Q639.3,280.2 635.2,279.3 Z" fill="#3a28ee"/><path d="M646.2,276.3 Q650.3,275.4 651.2,272.1 Q652.1,275.4 656.2,276.3 Q652.1,277.2 651.2,280.5 Q650.3,277.2 646.2,276.3 Z" fill="#3a28ee"/><path d="M657.3,265.7 Q661.4,264.8 662.3,261.5 Q663.2,264.8 667.3,265.7 Q663.2,266.6 662.3,269.9 Q661.4,266.6 657.3,265.7 Z" fill="#3a28ee"/><path d="M668.3,269.7 Q672.4,268.8 673.3,265.5 Q674.2,268.8 678.3,269.7 Q674.2,270.6 673.3,273.9 Q672.4,270.6 668.3,269.7 Z" fill="#3a28ee"/></g><path d="M237.0,279.15 L238.0,279.16 L239.0,279.17 L240.0,279.18 L241.0,279.19 L242.0,279.20 L243.0,279.20 L244.0,279.20 L245.0,279.20 L246.0,279.19 L247.0,279.19 L248.0,279.18 L249.0,279.17 L250.0,279.15 L251.0,279.14 L252.0,279.12 L253.0,279.10 L254.0,279.08 L255.0,279.05 L256.0,279.03 L257.0,279.00 L258.0,278.97 L259.0,278.94 L260.0,278.91 L261.0,278.87 L262.0,278.83 L263.0,278.79 L264.0,278.75 L265.0,278.71 L266.0,278.67 L267.0,278.62 L268.0,278.58 L269.0,278.53 L270.0,278.48 L271.0,278.43 L272.0,278.37 L273.0,278.32 L274.0,278.27 L275.0,278.21 L276.0,278.15 L277.0,278.09 L278.0,278.03 L279.0,277.97 L280.0,277.91 L281.0,277.85 L282.0,277.78 L283.0,277.72 L284.0,277.65 L285.0,277.58 L286.0,277.52 L287.0,277.45 L288.0,277.38 L289.0,277.31 L290.0,277.24 L291.0,277.16 L292.0,277.09 L293.0,277.02 L294.0,276.95 L295.0,276.87 L296.0,276.80 L297.0,276.72 L298.0,276.65 L299.0,276.57 L300.0,276.49 L301.0,276.41 L302.0,276.33 L303.0,276.25 L304.0,276.17 L305.0,276.08 L306.0,275.99 L307.0,275.90 L308.0,275.81 L309.0,275.71 L310.0,275.62 L311.0,275.51 L312.0,275.41 L313.0,275.30 L314.0,275.18 L315.0,275.07 L316.0,274.94 L317.0,274.82 L318.0,274.69 L319.0,274.55 L320.0,274.41 L321.0,274.27 L322.0,274.11 L323.0,273.96 L324.0,273.79 L325.0,273.62 L326.0,273.45 L327.0,273.27 L328.0,273.08 L329.0,272.88 L330.0,272.68 L331.0,272.47 L332.0,272.25 L333.0,272.03 L334.0,271.80 L335.0,271.56 L336.0,271.31 L337.0,271.05 L338.0,270.78 L339.0,270.51 L340.0,270.23 L341.0,269.93 L342.0,269.63 L343.0,269.32 L344.0,269.00 L345.0,268.66 L346.0,268.32 L347.0,267.97 L348.0,267.60 L349.0,267.23 L350.0,266.84 L351.0,266.45 L352.0,266.04 L353.0,265.62 L354.0,265.19 L355.0,264.75 L356.0,264.29 L357.0,263.83 L358.0,263.36 L359.0,262.87 L360.0,262.38 L361.0,261.88 L362.0,261.36 L363.0,260.84 L364.0,260.31 L365.0,259.78 L366.0,259.23 L367.0,258.68 L368.0,258.12 L369.0,257.56 L370.0,256.99 L371.0,256.43 L372.0,255.86 L373.0,255.30 L374.0,254.73 L375.0,254.17 L376.0,253.62 L377.0,253.07 L378.0,252.54 L379.0,252.01 L380.0,251.49 L381.0,250.98 L382.0,250.48 L383.0,249.99 L384.0,249.52 L385.0,249.06 L386.0,248.61 L387.0,248.17 L388.0,247.75 L389.0,247.34 L390.0,246.95 L391.0,246.57 L392.0,246.21 L393.0,245.87 L394.0,245.54 L395.0,245.23 L396.0,244.93 L397.0,244.65 L398.0,244.40 L399.0,244.16 L400.0,243.94 L401.0,243.73 L402.0,243.55 L403.0,243.39 L404.0,243.25 L405.0,243.14 L406.0,243.04 L407.0,242.97 L408.0,242.92 L409.0,242.89 L410.0,242.88 L411.0,242.90 L412.0,242.93 L413.0,242.99 L414.0,243.06 L415.0,243.16 L416.0,243.27 L417.0,243.40 L418.0,243.54 L419.0,243.70 L420.0,243.87 L421.0,244.06 L422.0,244.27 L423.0,244.48 L424.0,244.71 L425.0,244.95 L426.0,245.20 L427.0,245.46 L428.0,245.73 L429.0,246.01 L430.0,246.30 L431.0,246.60 L432.0,246.90 L433.0,247.21 L434.0,247.52 L435.0,247.84 L436.0,248.16 L437.0,248.49 L438.0,248.82 L439.0,249.15 L440.0,249.48 L441.0,249.81 L442.0,250.13 L443.0,250.46 L444.0,250.78 L445.0,251.10 L446.0,251.41 L447.0,251.72 L448.0,252.02 L449.0,252.31 L450.0,252.59 L451.0,252.86 L452.0,253.12 L453.0,253.37 L454.0,253.61 L455.0,253.84 L456.0,254.04 L457.0,254.24 L458.0,254.42 L459.0,254.58 L460.0,254.72 L461.0,254.84 L462.0,254.95 L463.0,255.04 L464.0,255.11 L465.0,255.16 L466.0,255.21 L467.0,255.24 L468.0,255.26 L469.0,255.27 L470.0,255.27 L471.0,255.27 L472.0,255.26 L473.0,255.24 L474.0,255.22 L475.0,255.20 L476.0,255.17 L477.0,255.15 L478.0,255.12 L479.0,255.10 L480.0,255.08 L481.0,255.07 L482.0,255.06 L483.0,255.06 L484.0,255.07 L485.0,255.08 L486.0,255.11 L487.0,255.15 L488.0,255.20 L489.0,255.27 L490.0,255.35 L491.0,255.45 L492.0,255.56 L493.0,255.68 L494.0,255.81 L495.0,255.95 L496.0,256.11 L497.0,256.27 L498.0,256.44 L499.0,256.62 L500.0,256.81 L501.0,257.00 L502.0,257.20 L503.0,257.40 L504.0,257.61 L505.0,257.82 L506.0,258.03 L507.0,258.24 L508.0,258.46 L509.0,258.67 L510.0,258.89 L511.0,259.10 L512.0,259.31 L513.0,259.52 L514.0,259.72 L515.0,259.92 L516.0,260.11 L517.0,260.30 L518.0,260.48 L519.0,260.66 L520.0,260.83 L521.0,260.99 L522.0,261.15 L523.0,261.31 L524.0,261.46 L525.0,261.60 L526.0,261.74 L527.0,261.87 L528.0,261.99 L529.0,262.11 L530.0,262.23 L531.0,262.33 L532.0,262.44 L533.0,262.53 L534.0,262.63 L535.0,262.71 L536.0,262.79 L537.0,262.87 L538.0,262.93 L539.0,263.00 L540.0,263.05 L541.0,263.11 L542.0,263.15 L543.0,263.19 L544.0,263.23 L545.0,263.25 L546.0,263.28 L547.0,263.30 L548.0,263.32 L549.0,263.33 L550.0,263.34 L551.0,263.35 L552.0,263.36 L553.0,263.37 L554.0,263.37 L555.0,263.38 L556.0,263.39 L557.0,263.40 L558.0,263.41 L559.0,263.42 L560.0,263.44 L561.0,263.46 L562.0,263.48 L563.0,263.51 L564.0,263.54 L565.0,263.58 L566.0,263.62 L567.0,263.67 L568.0,263.73 L569.0,263.79 L570.0,263.87 L571.0,263.95 L572.0,264.04 L573.0,264.13 L574.0,264.23 L575.0,264.34 L576.0,264.45 L577.0,264.57 L578.0,264.70 L579.0,264.83 L580.0,264.96 L581.0,265.10 L582.0,265.24 L583.0,265.39 L584.0,265.54 L585.0,265.69 L586.0,265.84 L587.0,266.00 L588.0,266.16 L589.0,266.32 L590.0,266.49 L591.0,266.65 L592.0,266.81 L593.0,266.98 L594.0,267.15 L595.0,267.31 L596.0,267.48 L597.0,267.64 L598.0,267.81 L599.0,267.97 L600.0,268.13 L601.0,268.29 L602.0,268.44 L603.0,268.60 L604.0,268.75 L605.0,268.90 L606.0,269.04 L607.0,269.18 L608.0,269.32 L609.0,269.45 L610.0,269.58 L611.0,269.70 L612.0,269.81 L613.0,269.92 L614.0,270.03 L615.0,270.13 L616.0,270.22 L617.0,270.30 L618.0,270.38 L619.0,270.45 L620.0,270.51 L621.0,270.56 L622.0,270.61 L623.0,270.64 L624.0,270.67 L625.0,270.68 L626.0,270.69 L627.0,270.69 L628.0,270.67 L629.0,270.65 L630.0,270.62 L631.0,270.58 L632.0,270.53 L633.0,270.48 L634.0,270.42 L635.0,270.36 L636.0,270.29 L637.0,270.22 L638.0,270.15 L639.0,270.08 L640.0,270.01 L641.0,269.94 L642.0,269.87 L643.0,269.80 L644.0,269.74 L645.0,269.68 L646.0,269.63 L647.0,269.58 L648.0,269.53 L649.0,269.50 L650.0,269.47 L651.0,269.46 L652.0,269.45 L653.0,269.45 L654.0,269.47 L655.0,269.49 L656.0,269.54 L657.0,269.59 L658.0,269.66 L659.0,269.74 L660.0,269.84 L661.0,269.94 L662.0,270.06 L663.0,270.18 L664.0,270.31 L665.0,270.45 L666.0,270.59 L667.0,270.74 L668.0,270.89 L669.0,271.05 L670.0,271.21 L671.0,271.37 L672.0,271.52 L673.0,271.68 L674.0,271.84 L675.0,271.99 L676.0,272.14 L677.0,272.28 L678.0,272.42 L679.0,272.55 L680.0,272.68 L681.0,272.79" fill="none" stroke="#3a28ee" stroke-width="3.4" stroke-linecap="round" stroke-linejoin="round"/><rect x="237.8" y="1.0" width="443.0" height="295.2" fill="none" stroke="#000" stroke-width="1.6"/><line x1="259.9" y1="296.2" x2="259.9" y2="291.2" stroke="#000" stroke-width="1.5"/><line x1="259.9" y1="1.0" x2="259.9" y2="6.0" stroke="#000" stroke-width="1.5"/><line x1="282.0" y1="296.2" x2="282.0" y2="286.7" stroke="#000" stroke-width="1.5"/><line x1="282.0" y1="1.0" x2="282.0" y2="10.5" stroke="#000" stroke-width="1.5"/><line x1="304.1" y1="296.2" x2="304.1" y2="291.2" stroke="#000" stroke-width="1.5"/><line x1="304.1" y1="1.0" x2="304.1" y2="6.0" stroke="#000" stroke-width="1.5"/><line x1="326.2" y1="296.2" x2="326.2" y2="291.2" stroke="#000" stroke-width="1.5"/><line x1="326.2" y1="1.0" x2="326.2" y2="6.0" stroke="#000" stroke-width="1.5"/><line x1="348.4" y1="296.2" x2="348.4" y2="291.2" stroke="#000" stroke-width="1.5"/><line x1="348.4" y1="1.0" x2="348.4" y2="6.0" stroke="#000" stroke-width="1.5"/><line x1="370.5" y1="296.2" x2="370.5" y2="286.7" stroke="#000" stroke-width="1.5"/><line x1="370.5" y1="1.0" x2="370.5" y2="10.5" stroke="#000" stroke-width="1.5"/><line x1="392.6" y1="296.2" x2="392.6" y2="291.2" stroke="#000" stroke-width="1.5"/><line x1="392.6" y1="1.0" x2="392.6" y2="6.0" stroke="#000" stroke-width="1.5"/><line x1="414.8" y1="296.2" x2="414.8" y2="291.2" stroke="#000" stroke-width="1.5"/><line x1="414.8" y1="1.0" x2="414.8" y2="6.0" stroke="#000" stroke-width="1.5"/><line x1="436.9" y1="296.2" x2="436.9" y2="291.2" stroke="#000" stroke-width="1.5"/><line x1="436.9" y1="1.0" x2="436.9" y2="6.0" stroke="#000" stroke-width="1.5"/><line x1="459.0" y1="296.2" x2="459.0" y2="286.7" stroke="#000" stroke-width="1.5"/><line x1="459.0" y1="1.0" x2="459.0" y2="10.5" stroke="#000" stroke-width="1.5"/><line x1="481.1" y1="296.2" x2="481.1" y2="291.2" stroke="#000" stroke-width="1.5"/><line x1="481.1" y1="1.0" x2="481.1" y2="6.0" stroke="#000" stroke-width="1.5"/><line x1="503.2" y1="296.2" x2="503.2" y2="291.2" stroke="#000" stroke-width="1.5"/><line x1="503.2" y1="1.0" x2="503.2" y2="6.0" stroke="#000" stroke-width="1.5"/><line x1="525.4" y1="296.2" x2="525.4" y2="291.2" stroke="#000" stroke-width="1.5"/><line x1="525.4" y1="1.0" x2="525.4" y2="6.0" stroke="#000" stroke-width="1.5"/><line x1="547.5" y1="296.2" x2="547.5" y2="286.7" stroke="#000" stroke-width="1.5"/><line x1="547.5" y1="1.0" x2="547.5" y2="10.5" stroke="#000" stroke-width="1.5"/><line x1="569.6" y1="296.2" x2="569.6" y2="291.2" stroke="#000" stroke-width="1.5"/><line x1="569.6" y1="1.0" x2="569.6" y2="6.0" stroke="#000" stroke-width="1.5"/><line x1="591.8" y1="296.2" x2="591.8" y2="291.2" stroke="#000" stroke-width="1.5"/><line x1="591.8" y1="1.0" x2="591.8" y2="6.0" stroke="#000" stroke-width="1.5"/><line x1="613.9" y1="296.2" x2="613.9" y2="291.2" stroke="#000" stroke-width="1.5"/><line x1="613.9" y1="1.0" x2="613.9" y2="6.0" stroke="#000" stroke-width="1.5"/><line x1="636.0" y1="296.2" x2="636.0" y2="286.7" stroke="#000" stroke-width="1.5"/><line x1="636.0" y1="1.0" x2="636.0" y2="10.5" stroke="#000" stroke-width="1.5"/><line x1="658.1" y1="296.2" x2="658.1" y2="291.2" stroke="#000" stroke-width="1.5"/><line x1="658.1" y1="1.0" x2="658.1" y2="6.0" stroke="#000" stroke-width="1.5"/><line x1="237.8" y1="279.6" x2="245.3" y2="279.6" stroke="#000" stroke-width="1.5"/><line x1="680.8" y1="279.6" x2="673.3" y2="279.6" stroke="#000" stroke-width="1.5"/><line x1="237.8" y1="263.2" x2="242.8" y2="263.2" stroke="#000" stroke-width="1.5"/><line x1="680.8" y1="263.2" x2="675.8" y2="263.2" stroke="#000" stroke-width="1.5"/><line x1="237.8" y1="246.9" x2="242.8" y2="246.9" stroke="#000" stroke-width="1.5"/><line x1="680.8" y1="246.9" x2="675.8" y2="246.9" stroke="#000" stroke-width="1.5"/><line x1="237.8" y1="230.5" x2="242.8" y2="230.5" stroke="#000" stroke-width="1.5"/><line x1="680.8" y1="230.5" x2="675.8" y2="230.5" stroke="#000" stroke-width="1.5"/><line x1="237.8" y1="214.1" x2="242.8" y2="214.1" stroke="#000" stroke-width="1.5"/><line x1="680.8" y1="214.1" x2="675.8" y2="214.1" stroke="#000" stroke-width="1.5"/><line x1="237.8" y1="197.7" x2="245.3" y2="197.7" stroke="#000" stroke-width="1.5"/><line x1="680.8" y1="197.7" x2="673.3" y2="197.7" stroke="#000" stroke-width="1.5"/><line x1="237.8" y1="181.3" x2="242.8" y2="181.3" stroke="#000" stroke-width="1.5"/><line x1="680.8" y1="181.3" x2="675.8" y2="181.3" stroke="#000" stroke-width="1.5"/><line x1="237.8" y1="164.9" x2="242.8" y2="164.9" stroke="#000" stroke-width="1.5"/><line x1="680.8" y1="164.9" x2="675.8" y2="164.9" stroke="#000" stroke-width="1.5"/><line x1="237.8" y1="148.5" x2="242.8" y2="148.5" stroke="#000" stroke-width="1.5"/><line x1="680.8" y1="148.5" x2="675.8" y2="148.5" stroke="#000" stroke-width="1.5"/><line x1="237.8" y1="132.1" x2="242.8" y2="132.1" stroke="#000" stroke-width="1.5"/><line x1="680.8" y1="132.1" x2="675.8" y2="132.1" stroke="#000" stroke-width="1.5"/><line x1="237.8" y1="115.7" x2="245.3" y2="115.7" stroke="#000" stroke-width="1.5"/><line x1="680.8" y1="115.7" x2="673.3" y2="115.7" stroke="#000" stroke-width="1.5"/><line x1="237.8" y1="99.3" x2="242.8" y2="99.3" stroke="#000" stroke-width="1.5"/><line x1="680.8" y1="99.3" x2="675.8" y2="99.3" stroke="#000" stroke-width="1.5"/><line x1="237.8" y1="83.0" x2="242.8" y2="83.0" stroke="#000" stroke-width="1.5"/><line x1="680.8" y1="83.0" x2="675.8" y2="83.0" stroke="#000" stroke-width="1.5"/><line x1="237.8" y1="66.6" x2="242.8" y2="66.6" stroke="#000" stroke-width="1.5"/><line x1="680.8" y1="66.6" x2="675.8" y2="66.6" stroke="#000" stroke-width="1.5"/><line x1="237.8" y1="50.2" x2="242.8" y2="50.2" stroke="#000" stroke-width="1.5"/><line x1="680.8" y1="50.2" x2="675.8" y2="50.2" stroke="#000" stroke-width="1.5"/><line x1="237.8" y1="33.8" x2="245.3" y2="33.8" stroke="#000" stroke-width="1.5"/><line x1="680.8" y1="33.8" x2="673.3" y2="33.8" stroke="#000" stroke-width="1.5"/><line x1="237.8" y1="17.4" x2="242.8" y2="17.4" stroke="#000" stroke-width="1.5"/><line x1="680.8" y1="17.4" x2="675.8" y2="17.4" stroke="#000" stroke-width="1.5"/><text x="232" y="285.7" font-family="Liberation Sans, sans-serif" stroke="#111" stroke-width="0.35" font-size="16.6" text-anchor="end" fill="#111">0</text><text x="232" y="203.8" font-family="Liberation Sans, sans-serif" stroke="#111" stroke-width="0.35" font-size="16.6" text-anchor="end" fill="#111">5</text><text x="232" y="121.8" font-family="Liberation Sans, sans-serif" stroke="#111" stroke-width="0.35" font-size="16.6" text-anchor="end" fill="#111">10</text><text x="232" y="39.9" font-family="Liberation Sans, sans-serif" stroke="#111" stroke-width="0.35" font-size="16.6" text-anchor="end" fill="#111">15</text><text x="282.0" y="317.3" font-family="Liberation Sans, sans-serif" stroke="#111" stroke-width="0.35" font-size="16.8" text-anchor="middle" fill="#111">-0.2</text><text x="370.5" y="317.3" font-family="Liberation Sans, sans-serif" stroke="#111" stroke-width="0.35" font-size="16.8" text-anchor="middle" fill="#111">0.0</text><text x="459.0" y="317.3" font-family="Liberation Sans, sans-serif" stroke="#111" stroke-width="0.35" font-size="16.8" text-anchor="middle" fill="#111">0.2</text><text x="547.5" y="317.3" font-family="Liberation Sans, sans-serif" stroke="#111" stroke-width="0.35" font-size="16.8" text-anchor="middle" fill="#111">0.4</text><text x="636.0" y="317.3" font-family="Liberation Sans, sans-serif" stroke="#111" stroke-width="0.35" font-size="16.8" text-anchor="middle" fill="#111">0.6</text><text x="373.5" y="333.8" font-family="Liberation Sans, sans-serif" stroke="#111" stroke-width="0.35" font-size="16.6" textLength="169.5" lengthAdjust="spacingAndGlyphs" fill="#111">Pump-Probe delay (ps)</text><text transform="translate(201.3,147.2) rotate(-90)" font-family="Liberation Sans, sans-serif" stroke="#111" stroke-width="0.35" font-size="12.8" text-anchor="middle" textLength="53" lengthAdjust="spacingAndGlyphs" fill="#111">ΔI/I (%)</text><text x="253.3" y="29" font-family="Liberation Sans, sans-serif" stroke="#111" stroke-width="0.35" font-size="15" textLength="104.6" lengthAdjust="spacingAndGlyphs" fill="#111">(1 0 5) reflection</text><path d="M263,46.0 L270,42.4 L277,46.0 L270,49.6 Z" fill="#3a28ee"/><text x="286" y="51.4" font-family="Liberation Sans, sans-serif" stroke="#111" stroke-width="0.35" font-size="15" fill="#111">0.3 mJ/cm</text><text x="354.2" y="40.7" font-family="Liberation Sans, sans-serif" stroke="#111" stroke-width="0.35" font-size="10.8" fill="#111">2</text><path d="M264,65.1 L276,65.1 L270,75.3 Z" fill="#2a98a0"/><text x="286" y="73.9" font-family="Liberation Sans, sans-serif" stroke="#111" stroke-width="0.35" font-size="15" fill="#111">0.7 mJ/cm</text><text x="354.2" y="63.2" font-family="Liberation Sans, sans-serif" stroke="#111" stroke-width="0.35" font-size="10.8" fill="#111">2</text><circle cx="269.7" cy="91.2" r="4.8" fill="#78f028"/><text x="286" y="96.6" font-family="Liberation Sans, sans-serif" stroke="#111" stroke-width="0.35" font-size="15" fill="#111">1.0 mJ/cm</text><text x="354.2" y="85.9" font-family="Liberation Sans, sans-serif" stroke="#111" stroke-width="0.35" font-size="10.8" fill="#111">2</text><path d="M270,107.7 L276.3,114.0 L270,120.3 L263.7,114.0 Z" fill="#cdb300"/><text x="286" y="119.4" font-family="Liberation Sans, sans-serif" stroke="#111" stroke-width="0.35" font-size="15" fill="#111">1.5 mJ/cm</text><text x="354.2" y="108.7" font-family="Liberation Sans, sans-serif" stroke="#111" stroke-width="0.35" font-size="10.8" fill="#111">2</text><path d="M270,130.0 L276,140.3 L264,140.3 Z" fill="#d22a0c"/><text x="286" y="141.4" font-family="Liberation Sans, sans-serif" stroke="#111" stroke-width="0.35" font-size="15" fill="#111">2.0 mJ/cm</text><text x="354.2" y="130.7" font-family="Liberation Sans, sans-serif" stroke="#111" stroke-width="0.35" font-size="10.8" fill="#111">2</text><rect x="265.2" y="154.4" width="8.8" height="9.6" fill="#000"/><text x="286" y="164.6" font-family="Liberation Sans, sans-serif" stroke="#111" stroke-width="0.35" font-size="15" fill="#111">3.5 mJ/cm</text><text x="354.2" y="153.9" font-family="Liberation Sans, sans-serif" stroke="#111" stroke-width="0.35" font-size="10.8" fill="#111">2</text><rect x="0" y="337.5" width="685" height="1.5" fill="#000"/></svg></body></html>
